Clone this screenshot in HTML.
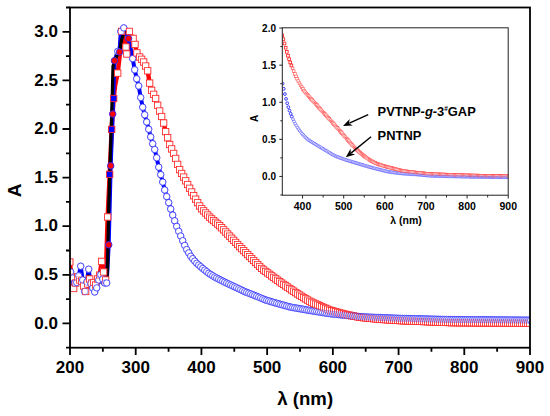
<!DOCTYPE html>
<html><head><meta charset="utf-8"><style>
html,body{margin:0;padding:0;background:#fff;}
body{width:550px;height:416px;overflow:hidden;font-family:"Liberation Sans",sans-serif;}
svg{display:block;}
</style></head><body>
<svg width="550" height="416" viewBox="0 0 550 416"><defs><clipPath id="cm"><rect x="70" y="7.5" width="460" height="340.2"/></clipPath><clipPath id="ci"><rect x="282.3" y="27.8" width="225.9" height="167.4"/></clipPath></defs>
<g clip-path="url(#cm)">
<path d="M69.80 262.00L71.65 277.00L73.65 288.50L75.65 283.00L77.65 277.00L79.65 280.00L81.65 281.00L83.65 286.00L85.65 291.50L87.65 284.00L89.65 279.00L91.65 283.00L93.65 282.50L95.65 285.00L97.65 279.00L99.65 275.20L101.65 261.40L103.65 272.00L105.65 280.00L107.65 217.00L109.65 174.40L111.65 129.40L113.65 98.50L115.20 85.00L117.70 73.10L120.00 53.00L121.60 31.40L123.50 40.00L126.00 47.00L126.80 54.00L129.40 31.40L131.20 35.00L133.10 38.40L135.00 44.40L136.90 52.90L139.65 57.00L141.65 59.30L143.65 62.00L145.65 66.00L147.65 70.80L149.65 83.10L151.65 90.30L153.65 94.30L155.65 98.50L157.65 105.30L159.65 111.00L161.65 116.50L163.65 123.00L165.65 131.64L167.65 137.72L169.65 144.49L171.65 148.87L173.65 153.43L175.65 158.45L177.65 164.37L179.65 169.63L181.65 173.46L183.65 177.05L185.65 180.78L187.65 184.52L189.65 188.25L191.65 191.97L193.65 195.69L195.65 199.18L197.65 202.67L199.65 205.94L201.65 208.77L203.65 210.86L205.65 212.95L207.65 215.04L209.65 217.13L211.65 218.90L213.65 220.60L215.65 222.30L217.65 224.00L219.65 225.70L221.65 227.73L223.65 229.83L225.65 231.93L227.65 234.03L229.65 236.13L231.65 238.23L233.65 240.33L235.65 242.43L237.65 244.53L239.65 246.63L241.65 248.64L243.65 250.62L245.65 252.60L247.65 254.58L249.65 256.56L251.65 258.54L253.65 260.53L255.65 262.51L257.65 264.49L259.65 266.47L261.65 268.45L263.65 270.01L265.65 271.48L267.65 272.94L269.65 274.41L271.65 275.88L273.65 277.34L275.65 278.81L277.65 280.28L279.65 281.74L281.65 283.12L283.65 284.47L285.65 285.82L287.65 287.18L289.65 288.53L291.65 289.88L293.65 291.23L295.65 292.59L297.65 293.90L299.65 295.13L301.65 296.36L303.65 297.59L305.65 298.82L307.65 300.05L309.65 301.28L311.65 302.23L313.65 303.11L315.65 303.99L317.65 304.87L319.65 305.75L321.65 306.63L323.65 307.51L325.65 308.39L327.65 309.27L329.65 310.15L331.65 310.74L333.65 311.27L335.65 311.81L337.65 312.34L339.65 312.87L341.65 313.41L343.65 313.94L345.65 314.43L347.65 314.83L349.65 315.23L351.65 315.63L353.65 316.03L355.65 316.43L357.65 316.83L359.65 317.23L361.65 317.47L363.65 317.67L365.65 317.87L367.65 318.06L369.65 318.26L371.65 318.47L373.65 318.67L375.65 318.87L377.65 319.06L379.65 319.26L381.65 319.41L383.65 319.54L385.65 319.67L387.65 319.80L389.65 319.93L391.65 320.06L393.65 320.19L395.65 320.32L397.65 320.45L399.65 320.58L401.65 320.67L403.65 320.75L405.65 320.83L407.65 320.91L409.65 320.99L411.65 321.07L413.65 321.15L415.65 321.23L417.65 321.31L419.65 321.39L421.65 321.47L423.65 321.55L425.65 321.63L427.65 321.71L429.65 321.79L431.65 321.87L433.65 321.95L435.65 322.03L437.65 322.11L439.65 322.19L441.65 322.27L443.65 322.35L445.65 322.43L447.65 322.51L449.65 322.59L451.65 322.61L453.65 322.63L455.65 322.64L457.65 322.66L459.65 322.67L461.65 322.69L463.65 322.70L465.65 322.72L467.65 322.73L469.65 322.75L471.65 322.76L473.65 322.78L475.65 322.79L477.65 322.80L479.65 322.82L481.65 322.83L483.65 322.85L485.65 322.86L487.65 322.88L489.65 322.89L491.65 322.91L493.65 322.92L495.65 322.94L497.65 322.95L499.65 322.97L501.65 322.98L503.65 323.00L505.65 323.01L507.65 323.03L509.65 323.04L511.65 323.06L513.65 323.07L515.65 323.09L517.65 323.10L519.65 323.12L521.65 323.13L523.65 323.15L525.65 323.16L527.65 323.18L529.65 323.19" stroke="#ff0000" stroke-width="4.4" fill="none" stroke-linejoin="round" />
<path d="M70.70 272.00L72.70 278.00L74.70 283.00L76.70 282.50L78.70 275.80L80.70 266.20L82.70 280.00L84.70 291.50L86.70 282.00L88.70 269.20L90.70 283.70L92.70 288.00L94.70 292.00L96.70 287.90L98.70 280.00L100.70 274.60L102.70 279.00L104.70 283.00L106.70 283.00L108.70 244.80L110.70 165.80L112.70 114.00L114.50 60.70L117.80 51.40L119.50 52.00L120.80 31.40L123.80 27.90L128.60 38.50L132.70 58.60L134.70 69.80L136.70 78.80L138.70 86.00L140.70 97.50L142.70 107.20L144.70 114.80L146.70 122.00L148.70 129.20L150.70 136.90L152.70 143.70L154.70 149.50L156.70 157.75L158.70 167.14L160.70 174.63L162.70 182.08L164.70 189.97L166.70 196.53L168.70 202.63L170.70 208.96L172.70 215.10L174.70 220.80L176.70 226.34L178.70 231.29L180.70 235.99L182.70 240.68L184.70 245.38L186.70 249.53L188.70 252.87L190.70 256.20L192.70 258.65L194.70 261.11L196.70 263.30L198.70 265.03L200.70 266.75L202.70 268.46L204.70 270.07L206.70 271.67L208.70 273.26L210.70 274.51L212.70 275.76L214.70 277.01L216.70 278.07L218.70 279.09L220.70 280.11L222.70 281.13L224.70 282.15L226.70 283.10L228.70 284.04L230.70 284.98L232.70 285.92L234.70 286.86L236.70 287.80L238.70 288.74L240.70 289.68L242.70 290.62L244.70 291.56L246.70 292.36L248.70 293.15L250.70 293.93L252.70 294.71L254.70 295.49L256.70 296.30L258.70 297.14L260.70 297.98L262.70 298.83L264.70 299.67L266.70 300.31L268.70 300.91L270.70 301.51L272.70 302.11L274.70 302.71L276.70 303.28L278.70 303.84L280.70 304.40L282.70 304.96L284.70 305.52L286.70 306.08L288.70 306.64L290.70 307.12L292.70 307.47L294.70 307.82L296.70 308.17L298.70 308.52L300.70 308.87L302.70 309.22L304.70 309.57L306.70 309.92L308.70 310.27L310.70 310.61L312.70 310.93L314.70 311.25L316.70 311.57L318.70 311.89L320.70 312.21L322.70 312.53L324.70 312.85L326.70 313.17L328.70 313.49L330.70 313.77L332.70 313.98L334.70 314.19L336.70 314.39L338.70 314.60L340.70 314.81L342.70 315.01L344.70 315.22L346.70 315.43L348.70 315.63L350.70 315.84L352.70 316.05L354.70 316.25L356.70 316.46L358.70 316.67L360.70 316.83L362.70 316.91L364.70 316.99L366.70 317.07L368.70 317.15L370.70 317.23L372.70 317.31L374.70 317.39L376.70 317.47L378.70 317.55L380.70 317.63L382.70 317.71L384.70 317.79L386.70 317.87L388.70 317.95L390.70 318.03L392.70 318.11L394.70 318.19L396.70 318.27L398.70 318.35L400.70 318.42L402.70 318.46L404.70 318.51L406.70 318.56L408.70 318.61L410.70 318.66L412.70 318.70L414.70 318.75L416.70 318.80L418.70 318.85L420.70 318.90L422.70 318.94L424.70 318.99L426.70 319.04L428.70 319.09L430.70 319.14L432.70 319.18L434.70 319.23L436.70 319.28L438.70 319.33L440.70 319.38L442.70 319.42L444.70 319.47L446.70 319.52L448.70 319.57L450.70 319.61L452.70 319.62L454.70 319.63L456.70 319.65L458.70 319.66L460.70 319.68L462.70 319.69L464.70 319.71L466.70 319.72L468.70 319.74L470.70 319.75L472.70 319.77L474.70 319.78L476.70 319.80L478.70 319.81L480.70 319.83L482.70 319.84L484.70 319.86L486.70 319.87L488.70 319.89L490.70 319.90L492.70 319.92L494.70 319.93L496.70 319.95L498.70 319.96L500.70 319.98L502.70 319.99L504.70 320.01L506.70 320.02L508.70 320.03L510.70 320.05L512.70 320.06L514.70 320.08L516.70 320.09L518.70 320.11L520.70 320.12L522.70 320.14L524.70 320.15L526.70 320.17L528.70 320.18L530.70 320.20" stroke="#0000ff" stroke-width="4" fill="none" stroke-linejoin="round" />
<path d="M70.60 275.00L74.00 284.00L78.00 279.00L82.00 279.00L85.50 289.00L88.50 276.00L92.00 281.00L95.00 289.00L99.00 279.00L103.00 284.00L106.50 284.00L107.60 268.00L108.50 215.00L110.20 160.00L111.80 110.00L112.40 90.00L113.00 66.00L116.00 58.00L118.00 53.00L119.90 49.90L121.50 40.00L123.30 34.50L124.50 31.00" stroke="#000" stroke-width="3.2" fill="none" stroke-linejoin="round" />
<rect x="66.65" y="258.85" width="6.3" height="6.3" fill="#fff" stroke="#ff2a2a" stroke-width="0.82"/><rect x="68.50" y="273.85" width="6.3" height="6.3" fill="#fff" stroke="#ff2a2a" stroke-width="0.82"/><circle cx="70.70" cy="272.00" r="3.2" fill="#fff" stroke="#2a2aff" stroke-width="0.82"/><rect x="70.50" y="285.35" width="6.3" height="6.3" fill="#fff" stroke="#ff2a2a" stroke-width="0.82"/><circle cx="72.70" cy="278.00" r="3.2" fill="#fff" stroke="#2a2aff" stroke-width="0.82"/><rect x="72.50" y="279.85" width="6.3" height="6.3" fill="#fff" stroke="#ff2a2a" stroke-width="0.82"/><circle cx="74.70" cy="283.00" r="3.2" fill="#fff" stroke="#2a2aff" stroke-width="0.82"/><rect x="74.50" y="273.85" width="6.3" height="6.3" fill="#fff" stroke="#ff2a2a" stroke-width="0.82"/><circle cx="76.70" cy="282.50" r="3.2" fill="#fff" stroke="#2a2aff" stroke-width="0.82"/><rect x="76.50" y="276.85" width="6.3" height="6.3" fill="#fff" stroke="#ff2a2a" stroke-width="0.82"/><circle cx="78.70" cy="275.80" r="3.2" fill="#fff" stroke="#2a2aff" stroke-width="0.82"/><rect x="78.50" y="277.85" width="6.3" height="6.3" fill="#fff" stroke="#ff2a2a" stroke-width="0.82"/><circle cx="80.70" cy="266.20" r="3.2" fill="#fff" stroke="#2a2aff" stroke-width="0.82"/><rect x="80.50" y="282.85" width="6.3" height="6.3" fill="#fff" stroke="#ff2a2a" stroke-width="0.82"/><circle cx="82.70" cy="280.00" r="3.2" fill="#fff" stroke="#2a2aff" stroke-width="0.82"/><rect x="82.50" y="288.35" width="6.3" height="6.3" fill="#fff" stroke="#ff2a2a" stroke-width="0.82"/><circle cx="84.70" cy="291.50" r="3.2" fill="#fff" stroke="#2a2aff" stroke-width="0.82"/><rect x="84.50" y="280.85" width="6.3" height="6.3" fill="#fff" stroke="#ff2a2a" stroke-width="0.82"/><circle cx="86.70" cy="282.00" r="3.2" fill="#fff" stroke="#2a2aff" stroke-width="0.82"/><rect x="86.50" y="275.85" width="6.3" height="6.3" fill="#fff" stroke="#ff2a2a" stroke-width="0.82"/><circle cx="88.70" cy="269.20" r="3.2" fill="#fff" stroke="#2a2aff" stroke-width="0.82"/><rect x="88.50" y="279.85" width="6.3" height="6.3" fill="#fff" stroke="#ff2a2a" stroke-width="0.82"/><circle cx="90.70" cy="283.70" r="3.2" fill="#fff" stroke="#2a2aff" stroke-width="0.82"/><rect x="90.50" y="279.35" width="6.3" height="6.3" fill="#fff" stroke="#ff2a2a" stroke-width="0.82"/><circle cx="92.70" cy="288.00" r="3.2" fill="#fff" stroke="#2a2aff" stroke-width="0.82"/><rect x="92.50" y="281.85" width="6.3" height="6.3" fill="#fff" stroke="#ff2a2a" stroke-width="0.82"/><circle cx="94.70" cy="292.00" r="3.2" fill="#fff" stroke="#2a2aff" stroke-width="0.82"/><rect x="94.50" y="275.85" width="6.3" height="6.3" fill="#fff" stroke="#ff2a2a" stroke-width="0.82"/><circle cx="96.70" cy="287.90" r="3.2" fill="#fff" stroke="#2a2aff" stroke-width="0.82"/><rect x="96.50" y="272.05" width="6.3" height="6.3" fill="#fff" stroke="#ff2a2a" stroke-width="0.82"/><circle cx="98.70" cy="280.00" r="3.2" fill="#fff" stroke="#2a2aff" stroke-width="0.82"/><rect x="98.50" y="258.25" width="6.3" height="6.3" fill="#fff" stroke="#ff2a2a" stroke-width="0.82"/><circle cx="100.70" cy="274.60" r="3.2" fill="#fff" stroke="#2a2aff" stroke-width="0.82"/><rect x="100.50" y="268.85" width="6.3" height="6.3" fill="#fff" stroke="#ff2a2a" stroke-width="0.82"/><circle cx="102.70" cy="279.00" r="3.2" fill="#fff" stroke="#2a2aff" stroke-width="0.82"/><rect x="102.50" y="276.85" width="6.3" height="6.3" fill="#fff" stroke="#ff2a2a" stroke-width="0.82"/><circle cx="104.70" cy="283.00" r="3.2" fill="#fff" stroke="#2a2aff" stroke-width="0.82"/><rect x="104.50" y="213.85" width="6.3" height="6.3" fill="#fff" stroke="#ff2a2a" stroke-width="0.82"/><circle cx="106.70" cy="283.00" r="3.2" fill="#fff" stroke="#2a2aff" stroke-width="0.82"/><rect x="114.55" y="69.95" width="6.3" height="6.3" fill="#fff" stroke="#ff2a2a" stroke-width="0.82"/><circle cx="117.80" cy="51.40" r="3.2" fill="#fff" stroke="#2a2aff" stroke-width="0.82"/><rect x="118.45" y="28.25" width="6.3" height="6.3" fill="#fff" stroke="#ff2a2a" stroke-width="0.82"/><circle cx="120.80" cy="31.40" r="3.2" fill="#fff" stroke="#2a2aff" stroke-width="0.82"/><circle cx="123.80" cy="27.90" r="3.2" fill="#fff" stroke="#2a2aff" stroke-width="0.82"/><rect x="122.85" y="43.85" width="6.3" height="6.3" fill="#fff" stroke="#ff2a2a" stroke-width="0.82"/><rect x="123.65" y="50.85" width="6.3" height="6.3" fill="#fff" stroke="#ff2a2a" stroke-width="0.82"/><rect x="126.25" y="28.25" width="6.3" height="6.3" fill="#fff" stroke="#ff2a2a" stroke-width="0.82"/><rect x="129.95" y="35.25" width="6.3" height="6.3" fill="#fff" stroke="#ff2a2a" stroke-width="0.82"/><circle cx="132.70" cy="58.60" r="3.2" fill="#fff" stroke="#2a2aff" stroke-width="0.82"/><rect x="131.85" y="41.25" width="6.3" height="6.3" fill="#fff" stroke="#ff2a2a" stroke-width="0.82"/><circle cx="134.70" cy="69.80" r="3.2" fill="#fff" stroke="#2a2aff" stroke-width="0.82"/><rect x="133.75" y="49.75" width="6.3" height="6.3" fill="#fff" stroke="#ff2a2a" stroke-width="0.82"/><circle cx="136.70" cy="78.80" r="3.2" fill="#fff" stroke="#2a2aff" stroke-width="0.82"/><rect x="136.50" y="53.85" width="6.3" height="6.3" fill="#fff" stroke="#ff2a2a" stroke-width="0.82"/><circle cx="138.70" cy="86.00" r="3.2" fill="#fff" stroke="#2a2aff" stroke-width="0.82"/><rect x="138.50" y="56.15" width="6.3" height="6.3" fill="#fff" stroke="#ff2a2a" stroke-width="0.82"/><circle cx="140.70" cy="97.50" r="3.2" fill="#fff" stroke="#2a2aff" stroke-width="0.82"/><rect x="140.50" y="58.85" width="6.3" height="6.3" fill="#fff" stroke="#ff2a2a" stroke-width="0.82"/><circle cx="142.70" cy="107.20" r="3.2" fill="#fff" stroke="#2a2aff" stroke-width="0.82"/><rect x="142.50" y="62.85" width="6.3" height="6.3" fill="#fff" stroke="#ff2a2a" stroke-width="0.82"/><circle cx="144.70" cy="114.80" r="3.2" fill="#fff" stroke="#2a2aff" stroke-width="0.82"/><rect x="144.50" y="67.65" width="6.3" height="6.3" fill="#fff" stroke="#ff2a2a" stroke-width="0.82"/><circle cx="146.70" cy="122.00" r="3.2" fill="#fff" stroke="#2a2aff" stroke-width="0.82"/><rect x="146.50" y="79.95" width="6.3" height="6.3" fill="#fff" stroke="#ff2a2a" stroke-width="0.82"/><circle cx="148.70" cy="129.20" r="3.2" fill="#fff" stroke="#2a2aff" stroke-width="0.82"/><rect x="148.50" y="87.15" width="6.3" height="6.3" fill="#fff" stroke="#ff2a2a" stroke-width="0.82"/><circle cx="150.70" cy="136.90" r="3.2" fill="#fff" stroke="#2a2aff" stroke-width="0.82"/><rect x="150.50" y="91.15" width="6.3" height="6.3" fill="#fff" stroke="#ff2a2a" stroke-width="0.82"/><circle cx="152.70" cy="143.70" r="3.2" fill="#fff" stroke="#2a2aff" stroke-width="0.82"/><rect x="152.50" y="95.35" width="6.3" height="6.3" fill="#fff" stroke="#ff2a2a" stroke-width="0.82"/><circle cx="154.70" cy="149.50" r="3.2" fill="#fff" stroke="#2a2aff" stroke-width="0.82"/><rect x="154.50" y="102.15" width="6.3" height="6.3" fill="#fff" stroke="#ff2a2a" stroke-width="0.82"/><circle cx="156.70" cy="157.75" r="3.2" fill="#fff" stroke="#2a2aff" stroke-width="0.82"/><rect x="156.50" y="107.85" width="6.3" height="6.3" fill="#fff" stroke="#ff2a2a" stroke-width="0.82"/><circle cx="158.70" cy="167.14" r="3.2" fill="#fff" stroke="#2a2aff" stroke-width="0.82"/><rect x="158.50" y="113.35" width="6.3" height="6.3" fill="#fff" stroke="#ff2a2a" stroke-width="0.82"/><circle cx="160.70" cy="174.63" r="3.2" fill="#fff" stroke="#2a2aff" stroke-width="0.82"/><rect x="160.50" y="119.85" width="6.3" height="6.3" fill="#fff" stroke="#ff2a2a" stroke-width="0.82"/><circle cx="162.70" cy="182.08" r="3.2" fill="#fff" stroke="#2a2aff" stroke-width="0.82"/><rect x="162.50" y="128.49" width="6.3" height="6.3" fill="#fff" stroke="#ff2a2a" stroke-width="0.82"/><circle cx="164.70" cy="189.97" r="3.2" fill="#fff" stroke="#2a2aff" stroke-width="0.82"/><rect x="164.50" y="134.57" width="6.3" height="6.3" fill="#fff" stroke="#ff2a2a" stroke-width="0.82"/><circle cx="166.70" cy="196.53" r="3.2" fill="#fff" stroke="#2a2aff" stroke-width="0.82"/><rect x="166.50" y="141.34" width="6.3" height="6.3" fill="#fff" stroke="#ff2a2a" stroke-width="0.82"/><circle cx="168.70" cy="202.63" r="3.2" fill="#fff" stroke="#2a2aff" stroke-width="0.82"/><rect x="168.50" y="145.72" width="6.3" height="6.3" fill="#fff" stroke="#ff2a2a" stroke-width="0.82"/><circle cx="170.70" cy="208.96" r="3.2" fill="#fff" stroke="#2a2aff" stroke-width="0.82"/><rect x="170.50" y="150.28" width="6.3" height="6.3" fill="#fff" stroke="#ff2a2a" stroke-width="0.82"/><circle cx="172.70" cy="215.10" r="3.2" fill="#fff" stroke="#2a2aff" stroke-width="0.82"/><rect x="172.50" y="155.30" width="6.3" height="6.3" fill="#fff" stroke="#ff2a2a" stroke-width="0.82"/><circle cx="174.70" cy="220.80" r="3.2" fill="#fff" stroke="#2a2aff" stroke-width="0.82"/><rect x="174.50" y="161.22" width="6.3" height="6.3" fill="#fff" stroke="#ff2a2a" stroke-width="0.82"/><circle cx="176.70" cy="226.34" r="3.2" fill="#fff" stroke="#2a2aff" stroke-width="0.82"/><rect x="176.50" y="166.48" width="6.3" height="6.3" fill="#fff" stroke="#ff2a2a" stroke-width="0.82"/><circle cx="178.70" cy="231.29" r="3.2" fill="#fff" stroke="#2a2aff" stroke-width="0.82"/><rect x="178.50" y="170.31" width="6.3" height="6.3" fill="#fff" stroke="#ff2a2a" stroke-width="0.82"/><circle cx="180.70" cy="235.99" r="3.2" fill="#fff" stroke="#2a2aff" stroke-width="0.82"/><rect x="180.50" y="173.90" width="6.3" height="6.3" fill="#fff" stroke="#ff2a2a" stroke-width="0.82"/><circle cx="182.70" cy="240.68" r="3.2" fill="#fff" stroke="#2a2aff" stroke-width="0.82"/><rect x="182.50" y="177.63" width="6.3" height="6.3" fill="#fff" stroke="#ff2a2a" stroke-width="0.82"/><circle cx="184.70" cy="245.38" r="3.2" fill="#fff" stroke="#2a2aff" stroke-width="0.82"/><rect x="184.50" y="181.37" width="6.3" height="6.3" fill="#fff" stroke="#ff2a2a" stroke-width="0.82"/><circle cx="186.70" cy="249.53" r="3.2" fill="#fff" stroke="#2a2aff" stroke-width="0.82"/><rect x="186.50" y="185.10" width="6.3" height="6.3" fill="#fff" stroke="#ff2a2a" stroke-width="0.82"/><circle cx="188.70" cy="252.87" r="3.2" fill="#fff" stroke="#2a2aff" stroke-width="0.82"/><rect x="188.50" y="188.82" width="6.3" height="6.3" fill="#fff" stroke="#ff2a2a" stroke-width="0.82"/><circle cx="190.70" cy="256.20" r="3.2" fill="#fff" stroke="#2a2aff" stroke-width="0.82"/><rect x="190.50" y="192.54" width="6.3" height="6.3" fill="#fff" stroke="#ff2a2a" stroke-width="0.82"/><circle cx="192.70" cy="258.65" r="3.2" fill="#fff" stroke="#2a2aff" stroke-width="0.82"/><rect x="192.50" y="196.03" width="6.3" height="6.3" fill="#fff" stroke="#ff2a2a" stroke-width="0.82"/><circle cx="194.70" cy="261.11" r="3.2" fill="#fff" stroke="#2a2aff" stroke-width="0.82"/><rect x="194.50" y="199.52" width="6.3" height="6.3" fill="#fff" stroke="#ff2a2a" stroke-width="0.82"/><circle cx="196.70" cy="263.30" r="3.2" fill="#fff" stroke="#2a2aff" stroke-width="0.82"/><rect x="196.50" y="202.79" width="6.3" height="6.3" fill="#fff" stroke="#ff2a2a" stroke-width="0.82"/><circle cx="198.70" cy="265.03" r="3.2" fill="#fff" stroke="#2a2aff" stroke-width="0.82"/><rect x="198.50" y="205.62" width="6.3" height="6.3" fill="#fff" stroke="#ff2a2a" stroke-width="0.82"/><circle cx="200.70" cy="266.75" r="3.2" fill="#fff" stroke="#2a2aff" stroke-width="0.82"/><rect x="200.50" y="207.71" width="6.3" height="6.3" fill="#fff" stroke="#ff2a2a" stroke-width="0.82"/><circle cx="202.70" cy="268.46" r="3.2" fill="#fff" stroke="#2a2aff" stroke-width="0.82"/><rect x="202.50" y="209.80" width="6.3" height="6.3" fill="#fff" stroke="#ff2a2a" stroke-width="0.82"/><circle cx="204.70" cy="270.07" r="3.2" fill="#fff" stroke="#2a2aff" stroke-width="0.82"/><rect x="204.50" y="211.89" width="6.3" height="6.3" fill="#fff" stroke="#ff2a2a" stroke-width="0.82"/><circle cx="206.70" cy="271.67" r="3.2" fill="#fff" stroke="#2a2aff" stroke-width="0.82"/><rect x="206.50" y="213.98" width="6.3" height="6.3" fill="#fff" stroke="#ff2a2a" stroke-width="0.82"/><circle cx="208.70" cy="273.26" r="3.2" fill="#fff" stroke="#2a2aff" stroke-width="0.82"/><rect x="208.50" y="215.75" width="6.3" height="6.3" fill="#fff" stroke="#ff2a2a" stroke-width="0.82"/><circle cx="210.70" cy="274.51" r="3.2" fill="#fff" stroke="#2a2aff" stroke-width="0.82"/><rect x="210.50" y="217.45" width="6.3" height="6.3" fill="#fff" stroke="#ff2a2a" stroke-width="0.82"/><circle cx="212.70" cy="275.76" r="3.2" fill="#fff" stroke="#2a2aff" stroke-width="0.82"/><rect x="212.50" y="219.15" width="6.3" height="6.3" fill="#fff" stroke="#ff2a2a" stroke-width="0.82"/><circle cx="214.70" cy="277.01" r="3.2" fill="#fff" stroke="#2a2aff" stroke-width="0.82"/><rect x="214.50" y="220.85" width="6.3" height="6.3" fill="#fff" stroke="#ff2a2a" stroke-width="0.82"/><circle cx="216.70" cy="278.07" r="3.2" fill="#fff" stroke="#2a2aff" stroke-width="0.82"/><rect x="216.50" y="222.55" width="6.3" height="6.3" fill="#fff" stroke="#ff2a2a" stroke-width="0.82"/><circle cx="218.70" cy="279.09" r="3.2" fill="#fff" stroke="#2a2aff" stroke-width="0.82"/><rect x="218.50" y="224.58" width="6.3" height="6.3" fill="#fff" stroke="#ff2a2a" stroke-width="0.82"/><circle cx="220.70" cy="280.11" r="3.2" fill="#fff" stroke="#2a2aff" stroke-width="0.82"/><rect x="220.50" y="226.68" width="6.3" height="6.3" fill="#fff" stroke="#ff2a2a" stroke-width="0.82"/><circle cx="222.70" cy="281.13" r="3.2" fill="#fff" stroke="#2a2aff" stroke-width="0.82"/><rect x="222.50" y="228.78" width="6.3" height="6.3" fill="#fff" stroke="#ff2a2a" stroke-width="0.82"/><circle cx="224.70" cy="282.15" r="3.2" fill="#fff" stroke="#2a2aff" stroke-width="0.82"/><rect x="224.50" y="230.88" width="6.3" height="6.3" fill="#fff" stroke="#ff2a2a" stroke-width="0.82"/><circle cx="226.70" cy="283.10" r="3.2" fill="#fff" stroke="#2a2aff" stroke-width="0.82"/><rect x="226.50" y="232.98" width="6.3" height="6.3" fill="#fff" stroke="#ff2a2a" stroke-width="0.82"/><circle cx="228.70" cy="284.04" r="3.2" fill="#fff" stroke="#2a2aff" stroke-width="0.82"/><rect x="228.50" y="235.08" width="6.3" height="6.3" fill="#fff" stroke="#ff2a2a" stroke-width="0.82"/><circle cx="230.70" cy="284.98" r="3.2" fill="#fff" stroke="#2a2aff" stroke-width="0.82"/><rect x="230.50" y="237.18" width="6.3" height="6.3" fill="#fff" stroke="#ff2a2a" stroke-width="0.82"/><circle cx="232.70" cy="285.92" r="3.2" fill="#fff" stroke="#2a2aff" stroke-width="0.82"/><rect x="232.50" y="239.28" width="6.3" height="6.3" fill="#fff" stroke="#ff2a2a" stroke-width="0.82"/><circle cx="234.70" cy="286.86" r="3.2" fill="#fff" stroke="#2a2aff" stroke-width="0.82"/><rect x="234.50" y="241.38" width="6.3" height="6.3" fill="#fff" stroke="#ff2a2a" stroke-width="0.82"/><circle cx="236.70" cy="287.80" r="3.2" fill="#fff" stroke="#2a2aff" stroke-width="0.82"/><rect x="236.50" y="243.48" width="6.3" height="6.3" fill="#fff" stroke="#ff2a2a" stroke-width="0.82"/><circle cx="238.70" cy="288.74" r="3.2" fill="#fff" stroke="#2a2aff" stroke-width="0.82"/><rect x="238.50" y="245.49" width="6.3" height="6.3" fill="#fff" stroke="#ff2a2a" stroke-width="0.82"/><circle cx="240.70" cy="289.68" r="3.2" fill="#fff" stroke="#2a2aff" stroke-width="0.82"/><rect x="240.50" y="247.47" width="6.3" height="6.3" fill="#fff" stroke="#ff2a2a" stroke-width="0.82"/><circle cx="242.70" cy="290.62" r="3.2" fill="#fff" stroke="#2a2aff" stroke-width="0.82"/><rect x="242.50" y="249.45" width="6.3" height="6.3" fill="#fff" stroke="#ff2a2a" stroke-width="0.82"/><circle cx="244.70" cy="291.56" r="3.2" fill="#fff" stroke="#2a2aff" stroke-width="0.82"/><rect x="244.50" y="251.43" width="6.3" height="6.3" fill="#fff" stroke="#ff2a2a" stroke-width="0.82"/><circle cx="246.70" cy="292.36" r="3.2" fill="#fff" stroke="#2a2aff" stroke-width="0.82"/><rect x="246.50" y="253.41" width="6.3" height="6.3" fill="#fff" stroke="#ff2a2a" stroke-width="0.82"/><circle cx="248.70" cy="293.15" r="3.2" fill="#fff" stroke="#2a2aff" stroke-width="0.82"/><rect x="248.50" y="255.39" width="6.3" height="6.3" fill="#fff" stroke="#ff2a2a" stroke-width="0.82"/><circle cx="250.70" cy="293.93" r="3.2" fill="#fff" stroke="#2a2aff" stroke-width="0.82"/><rect x="250.50" y="257.38" width="6.3" height="6.3" fill="#fff" stroke="#ff2a2a" stroke-width="0.82"/><circle cx="252.70" cy="294.71" r="3.2" fill="#fff" stroke="#2a2aff" stroke-width="0.82"/><rect x="252.50" y="259.36" width="6.3" height="6.3" fill="#fff" stroke="#ff2a2a" stroke-width="0.82"/><circle cx="254.70" cy="295.49" r="3.2" fill="#fff" stroke="#2a2aff" stroke-width="0.82"/><rect x="254.50" y="261.34" width="6.3" height="6.3" fill="#fff" stroke="#ff2a2a" stroke-width="0.82"/><circle cx="256.70" cy="296.30" r="3.2" fill="#fff" stroke="#2a2aff" stroke-width="0.82"/><rect x="256.50" y="263.32" width="6.3" height="6.3" fill="#fff" stroke="#ff2a2a" stroke-width="0.82"/><circle cx="258.70" cy="297.14" r="3.2" fill="#fff" stroke="#2a2aff" stroke-width="0.82"/><rect x="258.50" y="265.30" width="6.3" height="6.3" fill="#fff" stroke="#ff2a2a" stroke-width="0.82"/><circle cx="260.70" cy="297.98" r="3.2" fill="#fff" stroke="#2a2aff" stroke-width="0.82"/><rect x="260.50" y="266.86" width="6.3" height="6.3" fill="#fff" stroke="#ff2a2a" stroke-width="0.82"/><circle cx="262.70" cy="298.83" r="3.2" fill="#fff" stroke="#2a2aff" stroke-width="0.82"/><rect x="262.50" y="268.33" width="6.3" height="6.3" fill="#fff" stroke="#ff2a2a" stroke-width="0.82"/><circle cx="264.70" cy="299.67" r="3.2" fill="#fff" stroke="#2a2aff" stroke-width="0.82"/><rect x="264.50" y="269.79" width="6.3" height="6.3" fill="#fff" stroke="#ff2a2a" stroke-width="0.82"/><circle cx="266.70" cy="300.31" r="3.2" fill="#fff" stroke="#2a2aff" stroke-width="0.82"/><rect x="266.50" y="271.26" width="6.3" height="6.3" fill="#fff" stroke="#ff2a2a" stroke-width="0.82"/><circle cx="268.70" cy="300.91" r="3.2" fill="#fff" stroke="#2a2aff" stroke-width="0.82"/><rect x="268.50" y="272.73" width="6.3" height="6.3" fill="#fff" stroke="#ff2a2a" stroke-width="0.82"/><circle cx="270.70" cy="301.51" r="3.2" fill="#fff" stroke="#2a2aff" stroke-width="0.82"/><rect x="270.50" y="274.19" width="6.3" height="6.3" fill="#fff" stroke="#ff2a2a" stroke-width="0.82"/><circle cx="272.70" cy="302.11" r="3.2" fill="#fff" stroke="#2a2aff" stroke-width="0.82"/><rect x="272.50" y="275.66" width="6.3" height="6.3" fill="#fff" stroke="#ff2a2a" stroke-width="0.82"/><circle cx="274.70" cy="302.71" r="3.2" fill="#fff" stroke="#2a2aff" stroke-width="0.82"/><rect x="274.50" y="277.13" width="6.3" height="6.3" fill="#fff" stroke="#ff2a2a" stroke-width="0.82"/><circle cx="276.70" cy="303.28" r="3.2" fill="#fff" stroke="#2a2aff" stroke-width="0.82"/><rect x="276.50" y="278.59" width="6.3" height="6.3" fill="#fff" stroke="#ff2a2a" stroke-width="0.82"/><circle cx="278.70" cy="303.84" r="3.2" fill="#fff" stroke="#2a2aff" stroke-width="0.82"/><rect x="278.50" y="279.97" width="6.3" height="6.3" fill="#fff" stroke="#ff2a2a" stroke-width="0.82"/><circle cx="280.70" cy="304.40" r="3.2" fill="#fff" stroke="#2a2aff" stroke-width="0.82"/><rect x="280.50" y="281.32" width="6.3" height="6.3" fill="#fff" stroke="#ff2a2a" stroke-width="0.82"/><circle cx="282.70" cy="304.96" r="3.2" fill="#fff" stroke="#2a2aff" stroke-width="0.82"/><rect x="282.50" y="282.67" width="6.3" height="6.3" fill="#fff" stroke="#ff2a2a" stroke-width="0.82"/><circle cx="284.70" cy="305.52" r="3.2" fill="#fff" stroke="#2a2aff" stroke-width="0.82"/><rect x="284.50" y="284.03" width="6.3" height="6.3" fill="#fff" stroke="#ff2a2a" stroke-width="0.82"/><circle cx="286.70" cy="306.08" r="3.2" fill="#fff" stroke="#2a2aff" stroke-width="0.82"/><rect x="286.50" y="285.38" width="6.3" height="6.3" fill="#fff" stroke="#ff2a2a" stroke-width="0.82"/><circle cx="288.70" cy="306.64" r="3.2" fill="#fff" stroke="#2a2aff" stroke-width="0.82"/><rect x="288.50" y="286.73" width="6.3" height="6.3" fill="#fff" stroke="#ff2a2a" stroke-width="0.82"/><circle cx="290.70" cy="307.12" r="3.2" fill="#fff" stroke="#2a2aff" stroke-width="0.82"/><rect x="290.50" y="288.08" width="6.3" height="6.3" fill="#fff" stroke="#ff2a2a" stroke-width="0.82"/><circle cx="292.70" cy="307.47" r="3.2" fill="#fff" stroke="#2a2aff" stroke-width="0.82"/><rect x="292.50" y="289.44" width="6.3" height="6.3" fill="#fff" stroke="#ff2a2a" stroke-width="0.82"/><circle cx="294.70" cy="307.82" r="3.2" fill="#fff" stroke="#2a2aff" stroke-width="0.82"/><rect x="294.50" y="290.75" width="6.3" height="6.3" fill="#fff" stroke="#ff2a2a" stroke-width="0.82"/><circle cx="296.70" cy="308.17" r="3.2" fill="#fff" stroke="#2a2aff" stroke-width="0.82"/><rect x="296.50" y="291.98" width="6.3" height="6.3" fill="#fff" stroke="#ff2a2a" stroke-width="0.82"/><circle cx="298.70" cy="308.52" r="3.2" fill="#fff" stroke="#2a2aff" stroke-width="0.82"/><rect x="298.50" y="293.21" width="6.3" height="6.3" fill="#fff" stroke="#ff2a2a" stroke-width="0.82"/><circle cx="300.70" cy="308.87" r="3.2" fill="#fff" stroke="#2a2aff" stroke-width="0.82"/><rect x="300.50" y="294.44" width="6.3" height="6.3" fill="#fff" stroke="#ff2a2a" stroke-width="0.82"/><circle cx="302.70" cy="309.22" r="3.2" fill="#fff" stroke="#2a2aff" stroke-width="0.82"/><rect x="302.50" y="295.67" width="6.3" height="6.3" fill="#fff" stroke="#ff2a2a" stroke-width="0.82"/><circle cx="304.70" cy="309.57" r="3.2" fill="#fff" stroke="#2a2aff" stroke-width="0.82"/><rect x="304.50" y="296.90" width="6.3" height="6.3" fill="#fff" stroke="#ff2a2a" stroke-width="0.82"/><circle cx="306.70" cy="309.92" r="3.2" fill="#fff" stroke="#2a2aff" stroke-width="0.82"/><rect x="306.50" y="298.13" width="6.3" height="6.3" fill="#fff" stroke="#ff2a2a" stroke-width="0.82"/><circle cx="308.70" cy="310.27" r="3.2" fill="#fff" stroke="#2a2aff" stroke-width="0.82"/><rect x="308.50" y="299.08" width="6.3" height="6.3" fill="#fff" stroke="#ff2a2a" stroke-width="0.82"/><circle cx="310.70" cy="310.61" r="3.2" fill="#fff" stroke="#2a2aff" stroke-width="0.82"/><rect x="310.50" y="299.96" width="6.3" height="6.3" fill="#fff" stroke="#ff2a2a" stroke-width="0.82"/><circle cx="312.70" cy="310.93" r="3.2" fill="#fff" stroke="#2a2aff" stroke-width="0.82"/><rect x="312.50" y="300.84" width="6.3" height="6.3" fill="#fff" stroke="#ff2a2a" stroke-width="0.82"/><circle cx="314.70" cy="311.25" r="3.2" fill="#fff" stroke="#2a2aff" stroke-width="0.82"/><rect x="314.50" y="301.72" width="6.3" height="6.3" fill="#fff" stroke="#ff2a2a" stroke-width="0.82"/><circle cx="316.70" cy="311.57" r="3.2" fill="#fff" stroke="#2a2aff" stroke-width="0.82"/><rect x="316.50" y="302.60" width="6.3" height="6.3" fill="#fff" stroke="#ff2a2a" stroke-width="0.82"/><circle cx="318.70" cy="311.89" r="3.2" fill="#fff" stroke="#2a2aff" stroke-width="0.82"/><rect x="318.50" y="303.48" width="6.3" height="6.3" fill="#fff" stroke="#ff2a2a" stroke-width="0.82"/><circle cx="320.70" cy="312.21" r="3.2" fill="#fff" stroke="#2a2aff" stroke-width="0.82"/><rect x="320.50" y="304.36" width="6.3" height="6.3" fill="#fff" stroke="#ff2a2a" stroke-width="0.82"/><circle cx="322.70" cy="312.53" r="3.2" fill="#fff" stroke="#2a2aff" stroke-width="0.82"/><rect x="322.50" y="305.24" width="6.3" height="6.3" fill="#fff" stroke="#ff2a2a" stroke-width="0.82"/><circle cx="324.70" cy="312.85" r="3.2" fill="#fff" stroke="#2a2aff" stroke-width="0.82"/><rect x="324.50" y="306.12" width="6.3" height="6.3" fill="#fff" stroke="#ff2a2a" stroke-width="0.82"/><circle cx="326.70" cy="313.17" r="3.2" fill="#fff" stroke="#2a2aff" stroke-width="0.82"/><rect x="326.50" y="307.00" width="6.3" height="6.3" fill="#fff" stroke="#ff2a2a" stroke-width="0.82"/><circle cx="328.70" cy="313.49" r="3.2" fill="#fff" stroke="#2a2aff" stroke-width="0.82"/><rect x="328.50" y="307.59" width="6.3" height="6.3" fill="#fff" stroke="#ff2a2a" stroke-width="0.82"/><circle cx="330.70" cy="313.77" r="3.2" fill="#fff" stroke="#2a2aff" stroke-width="0.82"/><rect x="330.50" y="308.12" width="6.3" height="6.3" fill="#fff" stroke="#ff2a2a" stroke-width="0.82"/><circle cx="332.70" cy="313.98" r="3.2" fill="#fff" stroke="#2a2aff" stroke-width="0.82"/><rect x="332.50" y="308.66" width="6.3" height="6.3" fill="#fff" stroke="#ff2a2a" stroke-width="0.82"/><circle cx="334.70" cy="314.19" r="3.2" fill="#fff" stroke="#2a2aff" stroke-width="0.82"/><rect x="334.50" y="309.19" width="6.3" height="6.3" fill="#fff" stroke="#ff2a2a" stroke-width="0.82"/><circle cx="336.70" cy="314.39" r="3.2" fill="#fff" stroke="#2a2aff" stroke-width="0.82"/><rect x="336.50" y="309.72" width="6.3" height="6.3" fill="#fff" stroke="#ff2a2a" stroke-width="0.82"/><circle cx="338.70" cy="314.60" r="3.2" fill="#fff" stroke="#2a2aff" stroke-width="0.82"/><rect x="338.50" y="310.26" width="6.3" height="6.3" fill="#fff" stroke="#ff2a2a" stroke-width="0.82"/><circle cx="340.70" cy="314.81" r="3.2" fill="#fff" stroke="#2a2aff" stroke-width="0.82"/><rect x="340.50" y="310.79" width="6.3" height="6.3" fill="#fff" stroke="#ff2a2a" stroke-width="0.82"/><circle cx="342.70" cy="315.01" r="3.2" fill="#fff" stroke="#2a2aff" stroke-width="0.82"/><rect x="342.50" y="311.28" width="6.3" height="6.3" fill="#fff" stroke="#ff2a2a" stroke-width="0.82"/><circle cx="344.70" cy="315.22" r="3.2" fill="#fff" stroke="#2a2aff" stroke-width="0.82"/><rect x="344.50" y="311.68" width="6.3" height="6.3" fill="#fff" stroke="#ff2a2a" stroke-width="0.82"/><circle cx="346.70" cy="315.43" r="3.2" fill="#fff" stroke="#2a2aff" stroke-width="0.82"/><rect x="346.50" y="312.08" width="6.3" height="6.3" fill="#fff" stroke="#ff2a2a" stroke-width="0.82"/><circle cx="348.70" cy="315.63" r="3.2" fill="#fff" stroke="#2a2aff" stroke-width="0.82"/><rect x="348.50" y="312.48" width="6.3" height="6.3" fill="#fff" stroke="#ff2a2a" stroke-width="0.82"/><circle cx="350.70" cy="315.84" r="3.2" fill="#fff" stroke="#2a2aff" stroke-width="0.82"/><rect x="350.50" y="312.88" width="6.3" height="6.3" fill="#fff" stroke="#ff2a2a" stroke-width="0.82"/><circle cx="352.70" cy="316.05" r="3.2" fill="#fff" stroke="#2a2aff" stroke-width="0.82"/><rect x="352.50" y="313.28" width="6.3" height="6.3" fill="#fff" stroke="#ff2a2a" stroke-width="0.82"/><circle cx="354.70" cy="316.25" r="3.2" fill="#fff" stroke="#2a2aff" stroke-width="0.82"/><rect x="354.50" y="313.68" width="6.3" height="6.3" fill="#fff" stroke="#ff2a2a" stroke-width="0.82"/><circle cx="356.70" cy="316.46" r="3.2" fill="#fff" stroke="#2a2aff" stroke-width="0.82"/><rect x="356.50" y="314.08" width="6.3" height="6.3" fill="#fff" stroke="#ff2a2a" stroke-width="0.82"/><circle cx="358.70" cy="316.67" r="3.2" fill="#fff" stroke="#2a2aff" stroke-width="0.82"/><rect x="358.50" y="314.32" width="6.3" height="6.3" fill="#fff" stroke="#ff2a2a" stroke-width="0.82"/><circle cx="360.70" cy="316.83" r="3.2" fill="#fff" stroke="#2a2aff" stroke-width="0.82"/><rect x="360.50" y="314.52" width="6.3" height="6.3" fill="#fff" stroke="#ff2a2a" stroke-width="0.82"/><circle cx="362.70" cy="316.91" r="3.2" fill="#fff" stroke="#2a2aff" stroke-width="0.82"/><rect x="362.50" y="314.72" width="6.3" height="6.3" fill="#fff" stroke="#ff2a2a" stroke-width="0.82"/><circle cx="364.70" cy="316.99" r="3.2" fill="#fff" stroke="#2a2aff" stroke-width="0.82"/><rect x="364.50" y="314.92" width="6.3" height="6.3" fill="#fff" stroke="#ff2a2a" stroke-width="0.82"/><circle cx="366.70" cy="317.07" r="3.2" fill="#fff" stroke="#2a2aff" stroke-width="0.82"/><rect x="366.50" y="315.12" width="6.3" height="6.3" fill="#fff" stroke="#ff2a2a" stroke-width="0.82"/><circle cx="368.70" cy="317.15" r="3.2" fill="#fff" stroke="#2a2aff" stroke-width="0.82"/><rect x="368.50" y="315.32" width="6.3" height="6.3" fill="#fff" stroke="#ff2a2a" stroke-width="0.82"/><circle cx="370.70" cy="317.23" r="3.2" fill="#fff" stroke="#2a2aff" stroke-width="0.82"/><rect x="370.50" y="315.52" width="6.3" height="6.3" fill="#fff" stroke="#ff2a2a" stroke-width="0.82"/><circle cx="372.70" cy="317.31" r="3.2" fill="#fff" stroke="#2a2aff" stroke-width="0.82"/><rect x="372.50" y="315.72" width="6.3" height="6.3" fill="#fff" stroke="#ff2a2a" stroke-width="0.82"/><circle cx="374.70" cy="317.39" r="3.2" fill="#fff" stroke="#2a2aff" stroke-width="0.82"/><rect x="374.50" y="315.92" width="6.3" height="6.3" fill="#fff" stroke="#ff2a2a" stroke-width="0.82"/><circle cx="376.70" cy="317.47" r="3.2" fill="#fff" stroke="#2a2aff" stroke-width="0.82"/><rect x="376.50" y="316.12" width="6.3" height="6.3" fill="#fff" stroke="#ff2a2a" stroke-width="0.82"/><circle cx="378.70" cy="317.55" r="3.2" fill="#fff" stroke="#2a2aff" stroke-width="0.82"/><rect x="378.50" y="316.26" width="6.3" height="6.3" fill="#fff" stroke="#ff2a2a" stroke-width="0.82"/><circle cx="380.70" cy="317.63" r="3.2" fill="#fff" stroke="#2a2aff" stroke-width="0.82"/><rect x="380.50" y="316.39" width="6.3" height="6.3" fill="#fff" stroke="#ff2a2a" stroke-width="0.82"/><circle cx="382.70" cy="317.71" r="3.2" fill="#fff" stroke="#2a2aff" stroke-width="0.82"/><rect x="382.50" y="316.52" width="6.3" height="6.3" fill="#fff" stroke="#ff2a2a" stroke-width="0.82"/><circle cx="384.70" cy="317.79" r="3.2" fill="#fff" stroke="#2a2aff" stroke-width="0.82"/><rect x="384.50" y="316.65" width="6.3" height="6.3" fill="#fff" stroke="#ff2a2a" stroke-width="0.82"/><circle cx="386.70" cy="317.87" r="3.2" fill="#fff" stroke="#2a2aff" stroke-width="0.82"/><rect x="386.50" y="316.78" width="6.3" height="6.3" fill="#fff" stroke="#ff2a2a" stroke-width="0.82"/><circle cx="388.70" cy="317.95" r="3.2" fill="#fff" stroke="#2a2aff" stroke-width="0.82"/><rect x="388.50" y="316.91" width="6.3" height="6.3" fill="#fff" stroke="#ff2a2a" stroke-width="0.82"/><circle cx="390.70" cy="318.03" r="3.2" fill="#fff" stroke="#2a2aff" stroke-width="0.82"/><rect x="390.50" y="317.04" width="6.3" height="6.3" fill="#fff" stroke="#ff2a2a" stroke-width="0.82"/><circle cx="392.70" cy="318.11" r="3.2" fill="#fff" stroke="#2a2aff" stroke-width="0.82"/><rect x="392.50" y="317.17" width="6.3" height="6.3" fill="#fff" stroke="#ff2a2a" stroke-width="0.82"/><circle cx="394.70" cy="318.19" r="3.2" fill="#fff" stroke="#2a2aff" stroke-width="0.82"/><rect x="394.50" y="317.30" width="6.3" height="6.3" fill="#fff" stroke="#ff2a2a" stroke-width="0.82"/><circle cx="396.70" cy="318.27" r="3.2" fill="#fff" stroke="#2a2aff" stroke-width="0.82"/><rect x="396.50" y="317.43" width="6.3" height="6.3" fill="#fff" stroke="#ff2a2a" stroke-width="0.82"/><circle cx="398.70" cy="318.35" r="3.2" fill="#fff" stroke="#2a2aff" stroke-width="0.82"/><rect x="398.50" y="317.52" width="6.3" height="6.3" fill="#fff" stroke="#ff2a2a" stroke-width="0.82"/><circle cx="400.70" cy="318.42" r="3.2" fill="#fff" stroke="#2a2aff" stroke-width="0.82"/><rect x="400.50" y="317.60" width="6.3" height="6.3" fill="#fff" stroke="#ff2a2a" stroke-width="0.82"/><circle cx="402.70" cy="318.46" r="3.2" fill="#fff" stroke="#2a2aff" stroke-width="0.82"/><rect x="402.50" y="317.68" width="6.3" height="6.3" fill="#fff" stroke="#ff2a2a" stroke-width="0.82"/><circle cx="404.70" cy="318.51" r="3.2" fill="#fff" stroke="#2a2aff" stroke-width="0.82"/><rect x="404.50" y="317.76" width="6.3" height="6.3" fill="#fff" stroke="#ff2a2a" stroke-width="0.82"/><circle cx="406.70" cy="318.56" r="3.2" fill="#fff" stroke="#2a2aff" stroke-width="0.82"/><rect x="406.50" y="317.84" width="6.3" height="6.3" fill="#fff" stroke="#ff2a2a" stroke-width="0.82"/><circle cx="408.70" cy="318.61" r="3.2" fill="#fff" stroke="#2a2aff" stroke-width="0.82"/><rect x="408.50" y="317.92" width="6.3" height="6.3" fill="#fff" stroke="#ff2a2a" stroke-width="0.82"/><circle cx="410.70" cy="318.66" r="3.2" fill="#fff" stroke="#2a2aff" stroke-width="0.82"/><rect x="410.50" y="318.00" width="6.3" height="6.3" fill="#fff" stroke="#ff2a2a" stroke-width="0.82"/><circle cx="412.70" cy="318.70" r="3.2" fill="#fff" stroke="#2a2aff" stroke-width="0.82"/><rect x="412.50" y="318.08" width="6.3" height="6.3" fill="#fff" stroke="#ff2a2a" stroke-width="0.82"/><circle cx="414.70" cy="318.75" r="3.2" fill="#fff" stroke="#2a2aff" stroke-width="0.82"/><rect x="414.50" y="318.16" width="6.3" height="6.3" fill="#fff" stroke="#ff2a2a" stroke-width="0.82"/><circle cx="416.70" cy="318.80" r="3.2" fill="#fff" stroke="#2a2aff" stroke-width="0.82"/><rect x="416.50" y="318.24" width="6.3" height="6.3" fill="#fff" stroke="#ff2a2a" stroke-width="0.82"/><circle cx="418.70" cy="318.85" r="3.2" fill="#fff" stroke="#2a2aff" stroke-width="0.82"/><rect x="418.50" y="318.32" width="6.3" height="6.3" fill="#fff" stroke="#ff2a2a" stroke-width="0.82"/><circle cx="420.70" cy="318.90" r="3.2" fill="#fff" stroke="#2a2aff" stroke-width="0.82"/><rect x="420.50" y="318.40" width="6.3" height="6.3" fill="#fff" stroke="#ff2a2a" stroke-width="0.82"/><circle cx="422.70" cy="318.94" r="3.2" fill="#fff" stroke="#2a2aff" stroke-width="0.82"/><rect x="422.50" y="318.48" width="6.3" height="6.3" fill="#fff" stroke="#ff2a2a" stroke-width="0.82"/><circle cx="424.70" cy="318.99" r="3.2" fill="#fff" stroke="#2a2aff" stroke-width="0.82"/><rect x="424.50" y="318.56" width="6.3" height="6.3" fill="#fff" stroke="#ff2a2a" stroke-width="0.82"/><circle cx="426.70" cy="319.04" r="3.2" fill="#fff" stroke="#2a2aff" stroke-width="0.82"/><rect x="426.50" y="318.64" width="6.3" height="6.3" fill="#fff" stroke="#ff2a2a" stroke-width="0.82"/><circle cx="428.70" cy="319.09" r="3.2" fill="#fff" stroke="#2a2aff" stroke-width="0.82"/><rect x="428.50" y="318.72" width="6.3" height="6.3" fill="#fff" stroke="#ff2a2a" stroke-width="0.82"/><circle cx="430.70" cy="319.14" r="3.2" fill="#fff" stroke="#2a2aff" stroke-width="0.82"/><rect x="430.50" y="318.80" width="6.3" height="6.3" fill="#fff" stroke="#ff2a2a" stroke-width="0.82"/><circle cx="432.70" cy="319.18" r="3.2" fill="#fff" stroke="#2a2aff" stroke-width="0.82"/><rect x="432.50" y="318.88" width="6.3" height="6.3" fill="#fff" stroke="#ff2a2a" stroke-width="0.82"/><circle cx="434.70" cy="319.23" r="3.2" fill="#fff" stroke="#2a2aff" stroke-width="0.82"/><rect x="434.50" y="318.96" width="6.3" height="6.3" fill="#fff" stroke="#ff2a2a" stroke-width="0.82"/><circle cx="436.70" cy="319.28" r="3.2" fill="#fff" stroke="#2a2aff" stroke-width="0.82"/><rect x="436.50" y="319.04" width="6.3" height="6.3" fill="#fff" stroke="#ff2a2a" stroke-width="0.82"/><circle cx="438.70" cy="319.33" r="3.2" fill="#fff" stroke="#2a2aff" stroke-width="0.82"/><rect x="438.50" y="319.12" width="6.3" height="6.3" fill="#fff" stroke="#ff2a2a" stroke-width="0.82"/><circle cx="440.70" cy="319.38" r="3.2" fill="#fff" stroke="#2a2aff" stroke-width="0.82"/><rect x="440.50" y="319.20" width="6.3" height="6.3" fill="#fff" stroke="#ff2a2a" stroke-width="0.82"/><circle cx="442.70" cy="319.42" r="3.2" fill="#fff" stroke="#2a2aff" stroke-width="0.82"/><rect x="442.50" y="319.28" width="6.3" height="6.3" fill="#fff" stroke="#ff2a2a" stroke-width="0.82"/><circle cx="444.70" cy="319.47" r="3.2" fill="#fff" stroke="#2a2aff" stroke-width="0.82"/><rect x="444.50" y="319.36" width="6.3" height="6.3" fill="#fff" stroke="#ff2a2a" stroke-width="0.82"/><circle cx="446.70" cy="319.52" r="3.2" fill="#fff" stroke="#2a2aff" stroke-width="0.82"/><rect x="446.50" y="319.44" width="6.3" height="6.3" fill="#fff" stroke="#ff2a2a" stroke-width="0.82"/><circle cx="448.70" cy="319.57" r="3.2" fill="#fff" stroke="#2a2aff" stroke-width="0.82"/><rect x="448.50" y="319.46" width="6.3" height="6.3" fill="#fff" stroke="#ff2a2a" stroke-width="0.82"/><circle cx="450.70" cy="319.61" r="3.2" fill="#fff" stroke="#2a2aff" stroke-width="0.82"/><rect x="450.50" y="319.48" width="6.3" height="6.3" fill="#fff" stroke="#ff2a2a" stroke-width="0.82"/><circle cx="452.70" cy="319.62" r="3.2" fill="#fff" stroke="#2a2aff" stroke-width="0.82"/><rect x="452.50" y="319.49" width="6.3" height="6.3" fill="#fff" stroke="#ff2a2a" stroke-width="0.82"/><circle cx="454.70" cy="319.63" r="3.2" fill="#fff" stroke="#2a2aff" stroke-width="0.82"/><rect x="454.50" y="319.51" width="6.3" height="6.3" fill="#fff" stroke="#ff2a2a" stroke-width="0.82"/><circle cx="456.70" cy="319.65" r="3.2" fill="#fff" stroke="#2a2aff" stroke-width="0.82"/><rect x="456.50" y="319.52" width="6.3" height="6.3" fill="#fff" stroke="#ff2a2a" stroke-width="0.82"/><circle cx="458.70" cy="319.66" r="3.2" fill="#fff" stroke="#2a2aff" stroke-width="0.82"/><rect x="458.50" y="319.54" width="6.3" height="6.3" fill="#fff" stroke="#ff2a2a" stroke-width="0.82"/><circle cx="460.70" cy="319.68" r="3.2" fill="#fff" stroke="#2a2aff" stroke-width="0.82"/><rect x="460.50" y="319.55" width="6.3" height="6.3" fill="#fff" stroke="#ff2a2a" stroke-width="0.82"/><circle cx="462.70" cy="319.69" r="3.2" fill="#fff" stroke="#2a2aff" stroke-width="0.82"/><rect x="462.50" y="319.57" width="6.3" height="6.3" fill="#fff" stroke="#ff2a2a" stroke-width="0.82"/><circle cx="464.70" cy="319.71" r="3.2" fill="#fff" stroke="#2a2aff" stroke-width="0.82"/><rect x="464.50" y="319.58" width="6.3" height="6.3" fill="#fff" stroke="#ff2a2a" stroke-width="0.82"/><circle cx="466.70" cy="319.72" r="3.2" fill="#fff" stroke="#2a2aff" stroke-width="0.82"/><rect x="466.50" y="319.60" width="6.3" height="6.3" fill="#fff" stroke="#ff2a2a" stroke-width="0.82"/><circle cx="468.70" cy="319.74" r="3.2" fill="#fff" stroke="#2a2aff" stroke-width="0.82"/><rect x="468.50" y="319.61" width="6.3" height="6.3" fill="#fff" stroke="#ff2a2a" stroke-width="0.82"/><circle cx="470.70" cy="319.75" r="3.2" fill="#fff" stroke="#2a2aff" stroke-width="0.82"/><rect x="470.50" y="319.63" width="6.3" height="6.3" fill="#fff" stroke="#ff2a2a" stroke-width="0.82"/><circle cx="472.70" cy="319.77" r="3.2" fill="#fff" stroke="#2a2aff" stroke-width="0.82"/><rect x="472.50" y="319.64" width="6.3" height="6.3" fill="#fff" stroke="#ff2a2a" stroke-width="0.82"/><circle cx="474.70" cy="319.78" r="3.2" fill="#fff" stroke="#2a2aff" stroke-width="0.82"/><rect x="474.50" y="319.65" width="6.3" height="6.3" fill="#fff" stroke="#ff2a2a" stroke-width="0.82"/><circle cx="476.70" cy="319.80" r="3.2" fill="#fff" stroke="#2a2aff" stroke-width="0.82"/><rect x="476.50" y="319.67" width="6.3" height="6.3" fill="#fff" stroke="#ff2a2a" stroke-width="0.82"/><circle cx="478.70" cy="319.81" r="3.2" fill="#fff" stroke="#2a2aff" stroke-width="0.82"/><rect x="478.50" y="319.68" width="6.3" height="6.3" fill="#fff" stroke="#ff2a2a" stroke-width="0.82"/><circle cx="480.70" cy="319.83" r="3.2" fill="#fff" stroke="#2a2aff" stroke-width="0.82"/><rect x="480.50" y="319.70" width="6.3" height="6.3" fill="#fff" stroke="#ff2a2a" stroke-width="0.82"/><circle cx="482.70" cy="319.84" r="3.2" fill="#fff" stroke="#2a2aff" stroke-width="0.82"/><rect x="482.50" y="319.71" width="6.3" height="6.3" fill="#fff" stroke="#ff2a2a" stroke-width="0.82"/><circle cx="484.70" cy="319.86" r="3.2" fill="#fff" stroke="#2a2aff" stroke-width="0.82"/><rect x="484.50" y="319.73" width="6.3" height="6.3" fill="#fff" stroke="#ff2a2a" stroke-width="0.82"/><circle cx="486.70" cy="319.87" r="3.2" fill="#fff" stroke="#2a2aff" stroke-width="0.82"/><rect x="486.50" y="319.74" width="6.3" height="6.3" fill="#fff" stroke="#ff2a2a" stroke-width="0.82"/><circle cx="488.70" cy="319.89" r="3.2" fill="#fff" stroke="#2a2aff" stroke-width="0.82"/><rect x="488.50" y="319.76" width="6.3" height="6.3" fill="#fff" stroke="#ff2a2a" stroke-width="0.82"/><circle cx="490.70" cy="319.90" r="3.2" fill="#fff" stroke="#2a2aff" stroke-width="0.82"/><rect x="490.50" y="319.77" width="6.3" height="6.3" fill="#fff" stroke="#ff2a2a" stroke-width="0.82"/><circle cx="492.70" cy="319.92" r="3.2" fill="#fff" stroke="#2a2aff" stroke-width="0.82"/><rect x="492.50" y="319.79" width="6.3" height="6.3" fill="#fff" stroke="#ff2a2a" stroke-width="0.82"/><circle cx="494.70" cy="319.93" r="3.2" fill="#fff" stroke="#2a2aff" stroke-width="0.82"/><rect x="494.50" y="319.80" width="6.3" height="6.3" fill="#fff" stroke="#ff2a2a" stroke-width="0.82"/><circle cx="496.70" cy="319.95" r="3.2" fill="#fff" stroke="#2a2aff" stroke-width="0.82"/><rect x="496.50" y="319.82" width="6.3" height="6.3" fill="#fff" stroke="#ff2a2a" stroke-width="0.82"/><circle cx="498.70" cy="319.96" r="3.2" fill="#fff" stroke="#2a2aff" stroke-width="0.82"/><rect x="498.50" y="319.83" width="6.3" height="6.3" fill="#fff" stroke="#ff2a2a" stroke-width="0.82"/><circle cx="500.70" cy="319.98" r="3.2" fill="#fff" stroke="#2a2aff" stroke-width="0.82"/><rect x="500.50" y="319.85" width="6.3" height="6.3" fill="#fff" stroke="#ff2a2a" stroke-width="0.82"/><circle cx="502.70" cy="319.99" r="3.2" fill="#fff" stroke="#2a2aff" stroke-width="0.82"/><rect x="502.50" y="319.86" width="6.3" height="6.3" fill="#fff" stroke="#ff2a2a" stroke-width="0.82"/><circle cx="504.70" cy="320.01" r="3.2" fill="#fff" stroke="#2a2aff" stroke-width="0.82"/><rect x="504.50" y="319.88" width="6.3" height="6.3" fill="#fff" stroke="#ff2a2a" stroke-width="0.82"/><circle cx="506.70" cy="320.02" r="3.2" fill="#fff" stroke="#2a2aff" stroke-width="0.82"/><rect x="506.50" y="319.89" width="6.3" height="6.3" fill="#fff" stroke="#ff2a2a" stroke-width="0.82"/><circle cx="508.70" cy="320.03" r="3.2" fill="#fff" stroke="#2a2aff" stroke-width="0.82"/><rect x="508.50" y="319.91" width="6.3" height="6.3" fill="#fff" stroke="#ff2a2a" stroke-width="0.82"/><circle cx="510.70" cy="320.05" r="3.2" fill="#fff" stroke="#2a2aff" stroke-width="0.82"/><rect x="510.50" y="319.92" width="6.3" height="6.3" fill="#fff" stroke="#ff2a2a" stroke-width="0.82"/><circle cx="512.70" cy="320.06" r="3.2" fill="#fff" stroke="#2a2aff" stroke-width="0.82"/><rect x="512.50" y="319.94" width="6.3" height="6.3" fill="#fff" stroke="#ff2a2a" stroke-width="0.82"/><circle cx="514.70" cy="320.08" r="3.2" fill="#fff" stroke="#2a2aff" stroke-width="0.82"/><rect x="514.50" y="319.95" width="6.3" height="6.3" fill="#fff" stroke="#ff2a2a" stroke-width="0.82"/><circle cx="516.70" cy="320.09" r="3.2" fill="#fff" stroke="#2a2aff" stroke-width="0.82"/><rect x="516.50" y="319.97" width="6.3" height="6.3" fill="#fff" stroke="#ff2a2a" stroke-width="0.82"/><circle cx="518.70" cy="320.11" r="3.2" fill="#fff" stroke="#2a2aff" stroke-width="0.82"/><rect x="518.50" y="319.98" width="6.3" height="6.3" fill="#fff" stroke="#ff2a2a" stroke-width="0.82"/><circle cx="520.70" cy="320.12" r="3.2" fill="#fff" stroke="#2a2aff" stroke-width="0.82"/><rect x="520.50" y="320.00" width="6.3" height="6.3" fill="#fff" stroke="#ff2a2a" stroke-width="0.82"/><circle cx="522.70" cy="320.14" r="3.2" fill="#fff" stroke="#2a2aff" stroke-width="0.82"/><rect x="522.50" y="320.01" width="6.3" height="6.3" fill="#fff" stroke="#ff2a2a" stroke-width="0.82"/><circle cx="524.70" cy="320.15" r="3.2" fill="#fff" stroke="#2a2aff" stroke-width="0.82"/><rect x="524.50" y="320.03" width="6.3" height="6.3" fill="#fff" stroke="#ff2a2a" stroke-width="0.82"/><circle cx="526.70" cy="320.17" r="3.2" fill="#fff" stroke="#2a2aff" stroke-width="0.82"/><rect x="526.50" y="320.04" width="6.3" height="6.3" fill="#fff" stroke="#ff2a2a" stroke-width="0.82"/><circle cx="528.70" cy="320.18" r="3.2" fill="#fff" stroke="#2a2aff" stroke-width="0.82"/><circle cx="530.70" cy="320.20" r="3.2" fill="#fff" stroke="#2a2aff" stroke-width="0.82"/><rect x="106.50" y="171.25" width="6.3" height="6.3" fill="#00f" stroke="#ff2a2a" stroke-width="0.82"/><circle cx="108.70" cy="244.80" r="3.2" fill="#f00" stroke="#2a2aff" stroke-width="0.82"/><rect x="108.50" y="126.25" width="6.3" height="6.3" fill="#00f" stroke="#ff2a2a" stroke-width="0.82"/><circle cx="110.70" cy="165.80" r="3.2" fill="#f00" stroke="#2a2aff" stroke-width="0.82"/><rect x="110.50" y="95.35" width="6.3" height="6.3" fill="#00f" stroke="#ff2a2a" stroke-width="0.82"/><circle cx="112.70" cy="114.00" r="3.2" fill="#f00" stroke="#2a2aff" stroke-width="0.82"/><circle cx="114.50" cy="60.70" r="3.2" fill="#f00" stroke="#2a2aff" stroke-width="0.82"/><circle cx="119.50" cy="52.00" r="3.2" fill="#f00" stroke="#2a2aff" stroke-width="0.82"/><circle cx="128.60" cy="38.50" r="3.2" fill="#f00" stroke="#2a2aff" stroke-width="0.82"/>
<g opacity="0.5"><rect x="66.65" y="258.85" width="6.3" height="6.3" fill="#fff" stroke="#ff2a2a" stroke-width="0.82"/><circle cx="70.70" cy="272.00" r="3.2" fill="#fff" stroke="#2a2aff" stroke-width="0.82"/><rect x="68.50" y="273.85" width="6.3" height="6.3" fill="#fff" stroke="#ff2a2a" stroke-width="0.82"/><circle cx="72.70" cy="278.00" r="3.2" fill="#fff" stroke="#2a2aff" stroke-width="0.82"/><rect x="70.50" y="285.35" width="6.3" height="6.3" fill="#fff" stroke="#ff2a2a" stroke-width="0.82"/><circle cx="74.70" cy="283.00" r="3.2" fill="#fff" stroke="#2a2aff" stroke-width="0.82"/><rect x="72.50" y="279.85" width="6.3" height="6.3" fill="#fff" stroke="#ff2a2a" stroke-width="0.82"/><circle cx="76.70" cy="282.50" r="3.2" fill="#fff" stroke="#2a2aff" stroke-width="0.82"/><rect x="74.50" y="273.85" width="6.3" height="6.3" fill="#fff" stroke="#ff2a2a" stroke-width="0.82"/><circle cx="78.70" cy="275.80" r="3.2" fill="#fff" stroke="#2a2aff" stroke-width="0.82"/><rect x="76.50" y="276.85" width="6.3" height="6.3" fill="#fff" stroke="#ff2a2a" stroke-width="0.82"/><circle cx="80.70" cy="266.20" r="3.2" fill="#fff" stroke="#2a2aff" stroke-width="0.82"/><rect x="78.50" y="277.85" width="6.3" height="6.3" fill="#fff" stroke="#ff2a2a" stroke-width="0.82"/><circle cx="82.70" cy="280.00" r="3.2" fill="#fff" stroke="#2a2aff" stroke-width="0.82"/><rect x="80.50" y="282.85" width="6.3" height="6.3" fill="#fff" stroke="#ff2a2a" stroke-width="0.82"/><circle cx="84.70" cy="291.50" r="3.2" fill="#fff" stroke="#2a2aff" stroke-width="0.82"/><rect x="82.50" y="288.35" width="6.3" height="6.3" fill="#fff" stroke="#ff2a2a" stroke-width="0.82"/><circle cx="86.70" cy="282.00" r="3.2" fill="#fff" stroke="#2a2aff" stroke-width="0.82"/><rect x="84.50" y="280.85" width="6.3" height="6.3" fill="#fff" stroke="#ff2a2a" stroke-width="0.82"/><circle cx="88.70" cy="269.20" r="3.2" fill="#fff" stroke="#2a2aff" stroke-width="0.82"/><rect x="86.50" y="275.85" width="6.3" height="6.3" fill="#fff" stroke="#ff2a2a" stroke-width="0.82"/><circle cx="90.70" cy="283.70" r="3.2" fill="#fff" stroke="#2a2aff" stroke-width="0.82"/><rect x="88.50" y="279.85" width="6.3" height="6.3" fill="#fff" stroke="#ff2a2a" stroke-width="0.82"/><circle cx="92.70" cy="288.00" r="3.2" fill="#fff" stroke="#2a2aff" stroke-width="0.82"/><rect x="90.50" y="279.35" width="6.3" height="6.3" fill="#fff" stroke="#ff2a2a" stroke-width="0.82"/><circle cx="94.70" cy="292.00" r="3.2" fill="#fff" stroke="#2a2aff" stroke-width="0.82"/><rect x="92.50" y="281.85" width="6.3" height="6.3" fill="#fff" stroke="#ff2a2a" stroke-width="0.82"/><circle cx="96.70" cy="287.90" r="3.2" fill="#fff" stroke="#2a2aff" stroke-width="0.82"/><rect x="94.50" y="275.85" width="6.3" height="6.3" fill="#fff" stroke="#ff2a2a" stroke-width="0.82"/><circle cx="98.70" cy="280.00" r="3.2" fill="#fff" stroke="#2a2aff" stroke-width="0.82"/><rect x="96.50" y="272.05" width="6.3" height="6.3" fill="#fff" stroke="#ff2a2a" stroke-width="0.82"/><circle cx="100.70" cy="274.60" r="3.2" fill="#fff" stroke="#2a2aff" stroke-width="0.82"/><rect x="98.50" y="258.25" width="6.3" height="6.3" fill="#fff" stroke="#ff2a2a" stroke-width="0.82"/><circle cx="102.70" cy="279.00" r="3.2" fill="#fff" stroke="#2a2aff" stroke-width="0.82"/><rect x="100.50" y="268.85" width="6.3" height="6.3" fill="#fff" stroke="#ff2a2a" stroke-width="0.82"/><circle cx="104.70" cy="283.00" r="3.2" fill="#fff" stroke="#2a2aff" stroke-width="0.82"/><rect x="102.50" y="276.85" width="6.3" height="6.3" fill="#fff" stroke="#ff2a2a" stroke-width="0.82"/><circle cx="106.70" cy="283.00" r="3.2" fill="#fff" stroke="#2a2aff" stroke-width="0.82"/><rect x="104.50" y="213.85" width="6.3" height="6.3" fill="#fff" stroke="#ff2a2a" stroke-width="0.82"/><rect x="114.55" y="69.95" width="6.3" height="6.3" fill="#fff" stroke="#ff2a2a" stroke-width="0.82"/><circle cx="117.80" cy="51.40" r="3.2" fill="#fff" stroke="#2a2aff" stroke-width="0.82"/><circle cx="120.80" cy="31.40" r="3.2" fill="#fff" stroke="#2a2aff" stroke-width="0.82"/><rect x="118.45" y="28.25" width="6.3" height="6.3" fill="#fff" stroke="#ff2a2a" stroke-width="0.82"/><circle cx="123.80" cy="27.90" r="3.2" fill="#fff" stroke="#2a2aff" stroke-width="0.82"/><rect x="122.85" y="43.85" width="6.3" height="6.3" fill="#fff" stroke="#ff2a2a" stroke-width="0.82"/><rect x="123.65" y="50.85" width="6.3" height="6.3" fill="#fff" stroke="#ff2a2a" stroke-width="0.82"/><rect x="126.25" y="28.25" width="6.3" height="6.3" fill="#fff" stroke="#ff2a2a" stroke-width="0.82"/><circle cx="132.70" cy="58.60" r="3.2" fill="#fff" stroke="#2a2aff" stroke-width="0.82"/><rect x="129.95" y="35.25" width="6.3" height="6.3" fill="#fff" stroke="#ff2a2a" stroke-width="0.82"/><circle cx="134.70" cy="69.80" r="3.2" fill="#fff" stroke="#2a2aff" stroke-width="0.82"/><rect x="131.85" y="41.25" width="6.3" height="6.3" fill="#fff" stroke="#ff2a2a" stroke-width="0.82"/><circle cx="136.70" cy="78.80" r="3.2" fill="#fff" stroke="#2a2aff" stroke-width="0.82"/><rect x="133.75" y="49.75" width="6.3" height="6.3" fill="#fff" stroke="#ff2a2a" stroke-width="0.82"/><circle cx="138.70" cy="86.00" r="3.2" fill="#fff" stroke="#2a2aff" stroke-width="0.82"/><rect x="136.50" y="53.85" width="6.3" height="6.3" fill="#fff" stroke="#ff2a2a" stroke-width="0.82"/><circle cx="140.70" cy="97.50" r="3.2" fill="#fff" stroke="#2a2aff" stroke-width="0.82"/><rect x="138.50" y="56.15" width="6.3" height="6.3" fill="#fff" stroke="#ff2a2a" stroke-width="0.82"/><circle cx="142.70" cy="107.20" r="3.2" fill="#fff" stroke="#2a2aff" stroke-width="0.82"/><rect x="140.50" y="58.85" width="6.3" height="6.3" fill="#fff" stroke="#ff2a2a" stroke-width="0.82"/><circle cx="144.70" cy="114.80" r="3.2" fill="#fff" stroke="#2a2aff" stroke-width="0.82"/><rect x="142.50" y="62.85" width="6.3" height="6.3" fill="#fff" stroke="#ff2a2a" stroke-width="0.82"/><circle cx="146.70" cy="122.00" r="3.2" fill="#fff" stroke="#2a2aff" stroke-width="0.82"/><rect x="144.50" y="67.65" width="6.3" height="6.3" fill="#fff" stroke="#ff2a2a" stroke-width="0.82"/><circle cx="148.70" cy="129.20" r="3.2" fill="#fff" stroke="#2a2aff" stroke-width="0.82"/><rect x="146.50" y="79.95" width="6.3" height="6.3" fill="#fff" stroke="#ff2a2a" stroke-width="0.82"/><circle cx="150.70" cy="136.90" r="3.2" fill="#fff" stroke="#2a2aff" stroke-width="0.82"/><rect x="148.50" y="87.15" width="6.3" height="6.3" fill="#fff" stroke="#ff2a2a" stroke-width="0.82"/><circle cx="152.70" cy="143.70" r="3.2" fill="#fff" stroke="#2a2aff" stroke-width="0.82"/><rect x="150.50" y="91.15" width="6.3" height="6.3" fill="#fff" stroke="#ff2a2a" stroke-width="0.82"/><circle cx="154.70" cy="149.50" r="3.2" fill="#fff" stroke="#2a2aff" stroke-width="0.82"/><rect x="152.50" y="95.35" width="6.3" height="6.3" fill="#fff" stroke="#ff2a2a" stroke-width="0.82"/><circle cx="156.70" cy="157.75" r="3.2" fill="#fff" stroke="#2a2aff" stroke-width="0.82"/><rect x="154.50" y="102.15" width="6.3" height="6.3" fill="#fff" stroke="#ff2a2a" stroke-width="0.82"/><circle cx="158.70" cy="167.14" r="3.2" fill="#fff" stroke="#2a2aff" stroke-width="0.82"/><rect x="156.50" y="107.85" width="6.3" height="6.3" fill="#fff" stroke="#ff2a2a" stroke-width="0.82"/><circle cx="160.70" cy="174.63" r="3.2" fill="#fff" stroke="#2a2aff" stroke-width="0.82"/><rect x="158.50" y="113.35" width="6.3" height="6.3" fill="#fff" stroke="#ff2a2a" stroke-width="0.82"/><circle cx="162.70" cy="182.08" r="3.2" fill="#fff" stroke="#2a2aff" stroke-width="0.82"/><rect x="160.50" y="119.85" width="6.3" height="6.3" fill="#fff" stroke="#ff2a2a" stroke-width="0.82"/><circle cx="164.70" cy="189.97" r="3.2" fill="#fff" stroke="#2a2aff" stroke-width="0.82"/><rect x="162.50" y="128.49" width="6.3" height="6.3" fill="#fff" stroke="#ff2a2a" stroke-width="0.82"/><circle cx="166.70" cy="196.53" r="3.2" fill="#fff" stroke="#2a2aff" stroke-width="0.82"/><rect x="164.50" y="134.57" width="6.3" height="6.3" fill="#fff" stroke="#ff2a2a" stroke-width="0.82"/><circle cx="168.70" cy="202.63" r="3.2" fill="#fff" stroke="#2a2aff" stroke-width="0.82"/><rect x="166.50" y="141.34" width="6.3" height="6.3" fill="#fff" stroke="#ff2a2a" stroke-width="0.82"/><circle cx="170.70" cy="208.96" r="3.2" fill="#fff" stroke="#2a2aff" stroke-width="0.82"/><rect x="168.50" y="145.72" width="6.3" height="6.3" fill="#fff" stroke="#ff2a2a" stroke-width="0.82"/><circle cx="172.70" cy="215.10" r="3.2" fill="#fff" stroke="#2a2aff" stroke-width="0.82"/><rect x="170.50" y="150.28" width="6.3" height="6.3" fill="#fff" stroke="#ff2a2a" stroke-width="0.82"/><circle cx="174.70" cy="220.80" r="3.2" fill="#fff" stroke="#2a2aff" stroke-width="0.82"/><rect x="172.50" y="155.30" width="6.3" height="6.3" fill="#fff" stroke="#ff2a2a" stroke-width="0.82"/><circle cx="176.70" cy="226.34" r="3.2" fill="#fff" stroke="#2a2aff" stroke-width="0.82"/><rect x="174.50" y="161.22" width="6.3" height="6.3" fill="#fff" stroke="#ff2a2a" stroke-width="0.82"/><circle cx="178.70" cy="231.29" r="3.2" fill="#fff" stroke="#2a2aff" stroke-width="0.82"/><rect x="176.50" y="166.48" width="6.3" height="6.3" fill="#fff" stroke="#ff2a2a" stroke-width="0.82"/><circle cx="180.70" cy="235.99" r="3.2" fill="#fff" stroke="#2a2aff" stroke-width="0.82"/><rect x="178.50" y="170.31" width="6.3" height="6.3" fill="#fff" stroke="#ff2a2a" stroke-width="0.82"/><circle cx="182.70" cy="240.68" r="3.2" fill="#fff" stroke="#2a2aff" stroke-width="0.82"/><rect x="180.50" y="173.90" width="6.3" height="6.3" fill="#fff" stroke="#ff2a2a" stroke-width="0.82"/><circle cx="184.70" cy="245.38" r="3.2" fill="#fff" stroke="#2a2aff" stroke-width="0.82"/><rect x="182.50" y="177.63" width="6.3" height="6.3" fill="#fff" stroke="#ff2a2a" stroke-width="0.82"/><circle cx="186.70" cy="249.53" r="3.2" fill="#fff" stroke="#2a2aff" stroke-width="0.82"/><rect x="184.50" y="181.37" width="6.3" height="6.3" fill="#fff" stroke="#ff2a2a" stroke-width="0.82"/><circle cx="188.70" cy="252.87" r="3.2" fill="#fff" stroke="#2a2aff" stroke-width="0.82"/><rect x="186.50" y="185.10" width="6.3" height="6.3" fill="#fff" stroke="#ff2a2a" stroke-width="0.82"/><circle cx="190.70" cy="256.20" r="3.2" fill="#fff" stroke="#2a2aff" stroke-width="0.82"/><rect x="188.50" y="188.82" width="6.3" height="6.3" fill="#fff" stroke="#ff2a2a" stroke-width="0.82"/><circle cx="192.70" cy="258.65" r="3.2" fill="#fff" stroke="#2a2aff" stroke-width="0.82"/><rect x="190.50" y="192.54" width="6.3" height="6.3" fill="#fff" stroke="#ff2a2a" stroke-width="0.82"/><circle cx="194.70" cy="261.11" r="3.2" fill="#fff" stroke="#2a2aff" stroke-width="0.82"/><rect x="192.50" y="196.03" width="6.3" height="6.3" fill="#fff" stroke="#ff2a2a" stroke-width="0.82"/><circle cx="196.70" cy="263.30" r="3.2" fill="#fff" stroke="#2a2aff" stroke-width="0.82"/><rect x="194.50" y="199.52" width="6.3" height="6.3" fill="#fff" stroke="#ff2a2a" stroke-width="0.82"/><circle cx="198.70" cy="265.03" r="3.2" fill="#fff" stroke="#2a2aff" stroke-width="0.82"/><rect x="196.50" y="202.79" width="6.3" height="6.3" fill="#fff" stroke="#ff2a2a" stroke-width="0.82"/><circle cx="200.70" cy="266.75" r="3.2" fill="#fff" stroke="#2a2aff" stroke-width="0.82"/><rect x="198.50" y="205.62" width="6.3" height="6.3" fill="#fff" stroke="#ff2a2a" stroke-width="0.82"/><circle cx="202.70" cy="268.46" r="3.2" fill="#fff" stroke="#2a2aff" stroke-width="0.82"/><rect x="200.50" y="207.71" width="6.3" height="6.3" fill="#fff" stroke="#ff2a2a" stroke-width="0.82"/><circle cx="204.70" cy="270.07" r="3.2" fill="#fff" stroke="#2a2aff" stroke-width="0.82"/><rect x="202.50" y="209.80" width="6.3" height="6.3" fill="#fff" stroke="#ff2a2a" stroke-width="0.82"/><circle cx="206.70" cy="271.67" r="3.2" fill="#fff" stroke="#2a2aff" stroke-width="0.82"/><rect x="204.50" y="211.89" width="6.3" height="6.3" fill="#fff" stroke="#ff2a2a" stroke-width="0.82"/><circle cx="208.70" cy="273.26" r="3.2" fill="#fff" stroke="#2a2aff" stroke-width="0.82"/><rect x="206.50" y="213.98" width="6.3" height="6.3" fill="#fff" stroke="#ff2a2a" stroke-width="0.82"/><circle cx="210.70" cy="274.51" r="3.2" fill="#fff" stroke="#2a2aff" stroke-width="0.82"/><rect x="208.50" y="215.75" width="6.3" height="6.3" fill="#fff" stroke="#ff2a2a" stroke-width="0.82"/><circle cx="212.70" cy="275.76" r="3.2" fill="#fff" stroke="#2a2aff" stroke-width="0.82"/><rect x="210.50" y="217.45" width="6.3" height="6.3" fill="#fff" stroke="#ff2a2a" stroke-width="0.82"/><circle cx="214.70" cy="277.01" r="3.2" fill="#fff" stroke="#2a2aff" stroke-width="0.82"/><rect x="212.50" y="219.15" width="6.3" height="6.3" fill="#fff" stroke="#ff2a2a" stroke-width="0.82"/><circle cx="216.70" cy="278.07" r="3.2" fill="#fff" stroke="#2a2aff" stroke-width="0.82"/><rect x="214.50" y="220.85" width="6.3" height="6.3" fill="#fff" stroke="#ff2a2a" stroke-width="0.82"/><circle cx="218.70" cy="279.09" r="3.2" fill="#fff" stroke="#2a2aff" stroke-width="0.82"/><rect x="216.50" y="222.55" width="6.3" height="6.3" fill="#fff" stroke="#ff2a2a" stroke-width="0.82"/><circle cx="220.70" cy="280.11" r="3.2" fill="#fff" stroke="#2a2aff" stroke-width="0.82"/><rect x="218.50" y="224.58" width="6.3" height="6.3" fill="#fff" stroke="#ff2a2a" stroke-width="0.82"/><circle cx="222.70" cy="281.13" r="3.2" fill="#fff" stroke="#2a2aff" stroke-width="0.82"/><rect x="220.50" y="226.68" width="6.3" height="6.3" fill="#fff" stroke="#ff2a2a" stroke-width="0.82"/><circle cx="224.70" cy="282.15" r="3.2" fill="#fff" stroke="#2a2aff" stroke-width="0.82"/><rect x="222.50" y="228.78" width="6.3" height="6.3" fill="#fff" stroke="#ff2a2a" stroke-width="0.82"/><circle cx="226.70" cy="283.10" r="3.2" fill="#fff" stroke="#2a2aff" stroke-width="0.82"/><rect x="224.50" y="230.88" width="6.3" height="6.3" fill="#fff" stroke="#ff2a2a" stroke-width="0.82"/><circle cx="228.70" cy="284.04" r="3.2" fill="#fff" stroke="#2a2aff" stroke-width="0.82"/><rect x="226.50" y="232.98" width="6.3" height="6.3" fill="#fff" stroke="#ff2a2a" stroke-width="0.82"/><circle cx="230.70" cy="284.98" r="3.2" fill="#fff" stroke="#2a2aff" stroke-width="0.82"/><rect x="228.50" y="235.08" width="6.3" height="6.3" fill="#fff" stroke="#ff2a2a" stroke-width="0.82"/><circle cx="232.70" cy="285.92" r="3.2" fill="#fff" stroke="#2a2aff" stroke-width="0.82"/><rect x="230.50" y="237.18" width="6.3" height="6.3" fill="#fff" stroke="#ff2a2a" stroke-width="0.82"/><circle cx="234.70" cy="286.86" r="3.2" fill="#fff" stroke="#2a2aff" stroke-width="0.82"/><rect x="232.50" y="239.28" width="6.3" height="6.3" fill="#fff" stroke="#ff2a2a" stroke-width="0.82"/><circle cx="236.70" cy="287.80" r="3.2" fill="#fff" stroke="#2a2aff" stroke-width="0.82"/><rect x="234.50" y="241.38" width="6.3" height="6.3" fill="#fff" stroke="#ff2a2a" stroke-width="0.82"/><circle cx="238.70" cy="288.74" r="3.2" fill="#fff" stroke="#2a2aff" stroke-width="0.82"/><rect x="236.50" y="243.48" width="6.3" height="6.3" fill="#fff" stroke="#ff2a2a" stroke-width="0.82"/><circle cx="240.70" cy="289.68" r="3.2" fill="#fff" stroke="#2a2aff" stroke-width="0.82"/><rect x="238.50" y="245.49" width="6.3" height="6.3" fill="#fff" stroke="#ff2a2a" stroke-width="0.82"/><circle cx="242.70" cy="290.62" r="3.2" fill="#fff" stroke="#2a2aff" stroke-width="0.82"/><rect x="240.50" y="247.47" width="6.3" height="6.3" fill="#fff" stroke="#ff2a2a" stroke-width="0.82"/><circle cx="244.70" cy="291.56" r="3.2" fill="#fff" stroke="#2a2aff" stroke-width="0.82"/><rect x="242.50" y="249.45" width="6.3" height="6.3" fill="#fff" stroke="#ff2a2a" stroke-width="0.82"/><circle cx="246.70" cy="292.36" r="3.2" fill="#fff" stroke="#2a2aff" stroke-width="0.82"/><rect x="244.50" y="251.43" width="6.3" height="6.3" fill="#fff" stroke="#ff2a2a" stroke-width="0.82"/><circle cx="248.70" cy="293.15" r="3.2" fill="#fff" stroke="#2a2aff" stroke-width="0.82"/><rect x="246.50" y="253.41" width="6.3" height="6.3" fill="#fff" stroke="#ff2a2a" stroke-width="0.82"/><circle cx="250.70" cy="293.93" r="3.2" fill="#fff" stroke="#2a2aff" stroke-width="0.82"/><rect x="248.50" y="255.39" width="6.3" height="6.3" fill="#fff" stroke="#ff2a2a" stroke-width="0.82"/><circle cx="252.70" cy="294.71" r="3.2" fill="#fff" stroke="#2a2aff" stroke-width="0.82"/><rect x="250.50" y="257.38" width="6.3" height="6.3" fill="#fff" stroke="#ff2a2a" stroke-width="0.82"/><circle cx="254.70" cy="295.49" r="3.2" fill="#fff" stroke="#2a2aff" stroke-width="0.82"/><rect x="252.50" y="259.36" width="6.3" height="6.3" fill="#fff" stroke="#ff2a2a" stroke-width="0.82"/><circle cx="256.70" cy="296.30" r="3.2" fill="#fff" stroke="#2a2aff" stroke-width="0.82"/><rect x="254.50" y="261.34" width="6.3" height="6.3" fill="#fff" stroke="#ff2a2a" stroke-width="0.82"/><circle cx="258.70" cy="297.14" r="3.2" fill="#fff" stroke="#2a2aff" stroke-width="0.82"/><rect x="256.50" y="263.32" width="6.3" height="6.3" fill="#fff" stroke="#ff2a2a" stroke-width="0.82"/><circle cx="260.70" cy="297.98" r="3.2" fill="#fff" stroke="#2a2aff" stroke-width="0.82"/><rect x="258.50" y="265.30" width="6.3" height="6.3" fill="#fff" stroke="#ff2a2a" stroke-width="0.82"/><circle cx="262.70" cy="298.83" r="3.2" fill="#fff" stroke="#2a2aff" stroke-width="0.82"/><rect x="260.50" y="266.86" width="6.3" height="6.3" fill="#fff" stroke="#ff2a2a" stroke-width="0.82"/><circle cx="264.70" cy="299.67" r="3.2" fill="#fff" stroke="#2a2aff" stroke-width="0.82"/><rect x="262.50" y="268.33" width="6.3" height="6.3" fill="#fff" stroke="#ff2a2a" stroke-width="0.82"/><circle cx="266.70" cy="300.31" r="3.2" fill="#fff" stroke="#2a2aff" stroke-width="0.82"/><rect x="264.50" y="269.79" width="6.3" height="6.3" fill="#fff" stroke="#ff2a2a" stroke-width="0.82"/><circle cx="268.70" cy="300.91" r="3.2" fill="#fff" stroke="#2a2aff" stroke-width="0.82"/><rect x="266.50" y="271.26" width="6.3" height="6.3" fill="#fff" stroke="#ff2a2a" stroke-width="0.82"/><circle cx="270.70" cy="301.51" r="3.2" fill="#fff" stroke="#2a2aff" stroke-width="0.82"/><rect x="268.50" y="272.73" width="6.3" height="6.3" fill="#fff" stroke="#ff2a2a" stroke-width="0.82"/><circle cx="272.70" cy="302.11" r="3.2" fill="#fff" stroke="#2a2aff" stroke-width="0.82"/><rect x="270.50" y="274.19" width="6.3" height="6.3" fill="#fff" stroke="#ff2a2a" stroke-width="0.82"/><circle cx="274.70" cy="302.71" r="3.2" fill="#fff" stroke="#2a2aff" stroke-width="0.82"/><rect x="272.50" y="275.66" width="6.3" height="6.3" fill="#fff" stroke="#ff2a2a" stroke-width="0.82"/><circle cx="276.70" cy="303.28" r="3.2" fill="#fff" stroke="#2a2aff" stroke-width="0.82"/><rect x="274.50" y="277.13" width="6.3" height="6.3" fill="#fff" stroke="#ff2a2a" stroke-width="0.82"/><circle cx="278.70" cy="303.84" r="3.2" fill="#fff" stroke="#2a2aff" stroke-width="0.82"/><rect x="276.50" y="278.59" width="6.3" height="6.3" fill="#fff" stroke="#ff2a2a" stroke-width="0.82"/><circle cx="280.70" cy="304.40" r="3.2" fill="#fff" stroke="#2a2aff" stroke-width="0.82"/><rect x="278.50" y="279.97" width="6.3" height="6.3" fill="#fff" stroke="#ff2a2a" stroke-width="0.82"/><circle cx="282.70" cy="304.96" r="3.2" fill="#fff" stroke="#2a2aff" stroke-width="0.82"/><rect x="280.50" y="281.32" width="6.3" height="6.3" fill="#fff" stroke="#ff2a2a" stroke-width="0.82"/><circle cx="284.70" cy="305.52" r="3.2" fill="#fff" stroke="#2a2aff" stroke-width="0.82"/><rect x="282.50" y="282.67" width="6.3" height="6.3" fill="#fff" stroke="#ff2a2a" stroke-width="0.82"/><circle cx="286.70" cy="306.08" r="3.2" fill="#fff" stroke="#2a2aff" stroke-width="0.82"/><rect x="284.50" y="284.03" width="6.3" height="6.3" fill="#fff" stroke="#ff2a2a" stroke-width="0.82"/><circle cx="288.70" cy="306.64" r="3.2" fill="#fff" stroke="#2a2aff" stroke-width="0.82"/><rect x="286.50" y="285.38" width="6.3" height="6.3" fill="#fff" stroke="#ff2a2a" stroke-width="0.82"/><circle cx="290.70" cy="307.12" r="3.2" fill="#fff" stroke="#2a2aff" stroke-width="0.82"/><rect x="288.50" y="286.73" width="6.3" height="6.3" fill="#fff" stroke="#ff2a2a" stroke-width="0.82"/><circle cx="292.70" cy="307.47" r="3.2" fill="#fff" stroke="#2a2aff" stroke-width="0.82"/><rect x="290.50" y="288.08" width="6.3" height="6.3" fill="#fff" stroke="#ff2a2a" stroke-width="0.82"/><circle cx="294.70" cy="307.82" r="3.2" fill="#fff" stroke="#2a2aff" stroke-width="0.82"/><rect x="292.50" y="289.44" width="6.3" height="6.3" fill="#fff" stroke="#ff2a2a" stroke-width="0.82"/><circle cx="296.70" cy="308.17" r="3.2" fill="#fff" stroke="#2a2aff" stroke-width="0.82"/><rect x="294.50" y="290.75" width="6.3" height="6.3" fill="#fff" stroke="#ff2a2a" stroke-width="0.82"/><circle cx="298.70" cy="308.52" r="3.2" fill="#fff" stroke="#2a2aff" stroke-width="0.82"/><rect x="296.50" y="291.98" width="6.3" height="6.3" fill="#fff" stroke="#ff2a2a" stroke-width="0.82"/><circle cx="300.70" cy="308.87" r="3.2" fill="#fff" stroke="#2a2aff" stroke-width="0.82"/><rect x="298.50" y="293.21" width="6.3" height="6.3" fill="#fff" stroke="#ff2a2a" stroke-width="0.82"/><circle cx="302.70" cy="309.22" r="3.2" fill="#fff" stroke="#2a2aff" stroke-width="0.82"/><rect x="300.50" y="294.44" width="6.3" height="6.3" fill="#fff" stroke="#ff2a2a" stroke-width="0.82"/><circle cx="304.70" cy="309.57" r="3.2" fill="#fff" stroke="#2a2aff" stroke-width="0.82"/><rect x="302.50" y="295.67" width="6.3" height="6.3" fill="#fff" stroke="#ff2a2a" stroke-width="0.82"/><circle cx="306.70" cy="309.92" r="3.2" fill="#fff" stroke="#2a2aff" stroke-width="0.82"/><rect x="304.50" y="296.90" width="6.3" height="6.3" fill="#fff" stroke="#ff2a2a" stroke-width="0.82"/><circle cx="308.70" cy="310.27" r="3.2" fill="#fff" stroke="#2a2aff" stroke-width="0.82"/><rect x="306.50" y="298.13" width="6.3" height="6.3" fill="#fff" stroke="#ff2a2a" stroke-width="0.82"/><circle cx="310.70" cy="310.61" r="3.2" fill="#fff" stroke="#2a2aff" stroke-width="0.82"/><rect x="308.50" y="299.08" width="6.3" height="6.3" fill="#fff" stroke="#ff2a2a" stroke-width="0.82"/><circle cx="312.70" cy="310.93" r="3.2" fill="#fff" stroke="#2a2aff" stroke-width="0.82"/><rect x="310.50" y="299.96" width="6.3" height="6.3" fill="#fff" stroke="#ff2a2a" stroke-width="0.82"/><circle cx="314.70" cy="311.25" r="3.2" fill="#fff" stroke="#2a2aff" stroke-width="0.82"/><rect x="312.50" y="300.84" width="6.3" height="6.3" fill="#fff" stroke="#ff2a2a" stroke-width="0.82"/><circle cx="316.70" cy="311.57" r="3.2" fill="#fff" stroke="#2a2aff" stroke-width="0.82"/><rect x="314.50" y="301.72" width="6.3" height="6.3" fill="#fff" stroke="#ff2a2a" stroke-width="0.82"/><circle cx="318.70" cy="311.89" r="3.2" fill="#fff" stroke="#2a2aff" stroke-width="0.82"/><rect x="316.50" y="302.60" width="6.3" height="6.3" fill="#fff" stroke="#ff2a2a" stroke-width="0.82"/><circle cx="320.70" cy="312.21" r="3.2" fill="#fff" stroke="#2a2aff" stroke-width="0.82"/><rect x="318.50" y="303.48" width="6.3" height="6.3" fill="#fff" stroke="#ff2a2a" stroke-width="0.82"/><circle cx="322.70" cy="312.53" r="3.2" fill="#fff" stroke="#2a2aff" stroke-width="0.82"/><rect x="320.50" y="304.36" width="6.3" height="6.3" fill="#fff" stroke="#ff2a2a" stroke-width="0.82"/><circle cx="324.70" cy="312.85" r="3.2" fill="#fff" stroke="#2a2aff" stroke-width="0.82"/><rect x="322.50" y="305.24" width="6.3" height="6.3" fill="#fff" stroke="#ff2a2a" stroke-width="0.82"/><circle cx="326.70" cy="313.17" r="3.2" fill="#fff" stroke="#2a2aff" stroke-width="0.82"/><rect x="324.50" y="306.12" width="6.3" height="6.3" fill="#fff" stroke="#ff2a2a" stroke-width="0.82"/><circle cx="328.70" cy="313.49" r="3.2" fill="#fff" stroke="#2a2aff" stroke-width="0.82"/><rect x="326.50" y="307.00" width="6.3" height="6.3" fill="#fff" stroke="#ff2a2a" stroke-width="0.82"/><circle cx="330.70" cy="313.77" r="3.2" fill="#fff" stroke="#2a2aff" stroke-width="0.82"/><rect x="328.50" y="307.59" width="6.3" height="6.3" fill="#fff" stroke="#ff2a2a" stroke-width="0.82"/><circle cx="332.70" cy="313.98" r="3.2" fill="#fff" stroke="#2a2aff" stroke-width="0.82"/><rect x="330.50" y="308.12" width="6.3" height="6.3" fill="#fff" stroke="#ff2a2a" stroke-width="0.82"/><circle cx="334.70" cy="314.19" r="3.2" fill="#fff" stroke="#2a2aff" stroke-width="0.82"/><rect x="332.50" y="308.66" width="6.3" height="6.3" fill="#fff" stroke="#ff2a2a" stroke-width="0.82"/><circle cx="336.70" cy="314.39" r="3.2" fill="#fff" stroke="#2a2aff" stroke-width="0.82"/><rect x="334.50" y="309.19" width="6.3" height="6.3" fill="#fff" stroke="#ff2a2a" stroke-width="0.82"/><circle cx="338.70" cy="314.60" r="3.2" fill="#fff" stroke="#2a2aff" stroke-width="0.82"/><rect x="336.50" y="309.72" width="6.3" height="6.3" fill="#fff" stroke="#ff2a2a" stroke-width="0.82"/><circle cx="340.70" cy="314.81" r="3.2" fill="#fff" stroke="#2a2aff" stroke-width="0.82"/><rect x="338.50" y="310.26" width="6.3" height="6.3" fill="#fff" stroke="#ff2a2a" stroke-width="0.82"/><circle cx="342.70" cy="315.01" r="3.2" fill="#fff" stroke="#2a2aff" stroke-width="0.82"/><rect x="340.50" y="310.79" width="6.3" height="6.3" fill="#fff" stroke="#ff2a2a" stroke-width="0.82"/><circle cx="344.70" cy="315.22" r="3.2" fill="#fff" stroke="#2a2aff" stroke-width="0.82"/><rect x="342.50" y="311.28" width="6.3" height="6.3" fill="#fff" stroke="#ff2a2a" stroke-width="0.82"/><circle cx="346.70" cy="315.43" r="3.2" fill="#fff" stroke="#2a2aff" stroke-width="0.82"/><rect x="344.50" y="311.68" width="6.3" height="6.3" fill="#fff" stroke="#ff2a2a" stroke-width="0.82"/><circle cx="348.70" cy="315.63" r="3.2" fill="#fff" stroke="#2a2aff" stroke-width="0.82"/><rect x="346.50" y="312.08" width="6.3" height="6.3" fill="#fff" stroke="#ff2a2a" stroke-width="0.82"/><circle cx="350.70" cy="315.84" r="3.2" fill="#fff" stroke="#2a2aff" stroke-width="0.82"/><rect x="348.50" y="312.48" width="6.3" height="6.3" fill="#fff" stroke="#ff2a2a" stroke-width="0.82"/><circle cx="352.70" cy="316.05" r="3.2" fill="#fff" stroke="#2a2aff" stroke-width="0.82"/><rect x="350.50" y="312.88" width="6.3" height="6.3" fill="#fff" stroke="#ff2a2a" stroke-width="0.82"/><circle cx="354.70" cy="316.25" r="3.2" fill="#fff" stroke="#2a2aff" stroke-width="0.82"/><rect x="352.50" y="313.28" width="6.3" height="6.3" fill="#fff" stroke="#ff2a2a" stroke-width="0.82"/><circle cx="356.70" cy="316.46" r="3.2" fill="#fff" stroke="#2a2aff" stroke-width="0.82"/><rect x="354.50" y="313.68" width="6.3" height="6.3" fill="#fff" stroke="#ff2a2a" stroke-width="0.82"/><circle cx="358.70" cy="316.67" r="3.2" fill="#fff" stroke="#2a2aff" stroke-width="0.82"/><rect x="356.50" y="314.08" width="6.3" height="6.3" fill="#fff" stroke="#ff2a2a" stroke-width="0.82"/><circle cx="360.70" cy="316.83" r="3.2" fill="#fff" stroke="#2a2aff" stroke-width="0.82"/><rect x="358.50" y="314.32" width="6.3" height="6.3" fill="#fff" stroke="#ff2a2a" stroke-width="0.82"/><circle cx="362.70" cy="316.91" r="3.2" fill="#fff" stroke="#2a2aff" stroke-width="0.82"/><rect x="360.50" y="314.52" width="6.3" height="6.3" fill="#fff" stroke="#ff2a2a" stroke-width="0.82"/><circle cx="364.70" cy="316.99" r="3.2" fill="#fff" stroke="#2a2aff" stroke-width="0.82"/><rect x="362.50" y="314.72" width="6.3" height="6.3" fill="#fff" stroke="#ff2a2a" stroke-width="0.82"/><circle cx="366.70" cy="317.07" r="3.2" fill="#fff" stroke="#2a2aff" stroke-width="0.82"/><rect x="364.50" y="314.92" width="6.3" height="6.3" fill="#fff" stroke="#ff2a2a" stroke-width="0.82"/><circle cx="368.70" cy="317.15" r="3.2" fill="#fff" stroke="#2a2aff" stroke-width="0.82"/><rect x="366.50" y="315.12" width="6.3" height="6.3" fill="#fff" stroke="#ff2a2a" stroke-width="0.82"/><circle cx="370.70" cy="317.23" r="3.2" fill="#fff" stroke="#2a2aff" stroke-width="0.82"/><rect x="368.50" y="315.32" width="6.3" height="6.3" fill="#fff" stroke="#ff2a2a" stroke-width="0.82"/><circle cx="372.70" cy="317.31" r="3.2" fill="#fff" stroke="#2a2aff" stroke-width="0.82"/><rect x="370.50" y="315.52" width="6.3" height="6.3" fill="#fff" stroke="#ff2a2a" stroke-width="0.82"/><circle cx="374.70" cy="317.39" r="3.2" fill="#fff" stroke="#2a2aff" stroke-width="0.82"/><rect x="372.50" y="315.72" width="6.3" height="6.3" fill="#fff" stroke="#ff2a2a" stroke-width="0.82"/><circle cx="376.70" cy="317.47" r="3.2" fill="#fff" stroke="#2a2aff" stroke-width="0.82"/><rect x="374.50" y="315.92" width="6.3" height="6.3" fill="#fff" stroke="#ff2a2a" stroke-width="0.82"/><circle cx="378.70" cy="317.55" r="3.2" fill="#fff" stroke="#2a2aff" stroke-width="0.82"/><rect x="376.50" y="316.12" width="6.3" height="6.3" fill="#fff" stroke="#ff2a2a" stroke-width="0.82"/><circle cx="380.70" cy="317.63" r="3.2" fill="#fff" stroke="#2a2aff" stroke-width="0.82"/><rect x="378.50" y="316.26" width="6.3" height="6.3" fill="#fff" stroke="#ff2a2a" stroke-width="0.82"/><circle cx="382.70" cy="317.71" r="3.2" fill="#fff" stroke="#2a2aff" stroke-width="0.82"/><rect x="380.50" y="316.39" width="6.3" height="6.3" fill="#fff" stroke="#ff2a2a" stroke-width="0.82"/><circle cx="384.70" cy="317.79" r="3.2" fill="#fff" stroke="#2a2aff" stroke-width="0.82"/><rect x="382.50" y="316.52" width="6.3" height="6.3" fill="#fff" stroke="#ff2a2a" stroke-width="0.82"/><circle cx="386.70" cy="317.87" r="3.2" fill="#fff" stroke="#2a2aff" stroke-width="0.82"/><rect x="384.50" y="316.65" width="6.3" height="6.3" fill="#fff" stroke="#ff2a2a" stroke-width="0.82"/><circle cx="388.70" cy="317.95" r="3.2" fill="#fff" stroke="#2a2aff" stroke-width="0.82"/><rect x="386.50" y="316.78" width="6.3" height="6.3" fill="#fff" stroke="#ff2a2a" stroke-width="0.82"/><circle cx="390.70" cy="318.03" r="3.2" fill="#fff" stroke="#2a2aff" stroke-width="0.82"/><rect x="388.50" y="316.91" width="6.3" height="6.3" fill="#fff" stroke="#ff2a2a" stroke-width="0.82"/><circle cx="392.70" cy="318.11" r="3.2" fill="#fff" stroke="#2a2aff" stroke-width="0.82"/><rect x="390.50" y="317.04" width="6.3" height="6.3" fill="#fff" stroke="#ff2a2a" stroke-width="0.82"/><circle cx="394.70" cy="318.19" r="3.2" fill="#fff" stroke="#2a2aff" stroke-width="0.82"/><rect x="392.50" y="317.17" width="6.3" height="6.3" fill="#fff" stroke="#ff2a2a" stroke-width="0.82"/><circle cx="396.70" cy="318.27" r="3.2" fill="#fff" stroke="#2a2aff" stroke-width="0.82"/><rect x="394.50" y="317.30" width="6.3" height="6.3" fill="#fff" stroke="#ff2a2a" stroke-width="0.82"/><circle cx="398.70" cy="318.35" r="3.2" fill="#fff" stroke="#2a2aff" stroke-width="0.82"/><rect x="396.50" y="317.43" width="6.3" height="6.3" fill="#fff" stroke="#ff2a2a" stroke-width="0.82"/><circle cx="400.70" cy="318.42" r="3.2" fill="#fff" stroke="#2a2aff" stroke-width="0.82"/><rect x="398.50" y="317.52" width="6.3" height="6.3" fill="#fff" stroke="#ff2a2a" stroke-width="0.82"/><circle cx="402.70" cy="318.46" r="3.2" fill="#fff" stroke="#2a2aff" stroke-width="0.82"/><rect x="400.50" y="317.60" width="6.3" height="6.3" fill="#fff" stroke="#ff2a2a" stroke-width="0.82"/><circle cx="404.70" cy="318.51" r="3.2" fill="#fff" stroke="#2a2aff" stroke-width="0.82"/><rect x="402.50" y="317.68" width="6.3" height="6.3" fill="#fff" stroke="#ff2a2a" stroke-width="0.82"/><circle cx="406.70" cy="318.56" r="3.2" fill="#fff" stroke="#2a2aff" stroke-width="0.82"/><rect x="404.50" y="317.76" width="6.3" height="6.3" fill="#fff" stroke="#ff2a2a" stroke-width="0.82"/><circle cx="408.70" cy="318.61" r="3.2" fill="#fff" stroke="#2a2aff" stroke-width="0.82"/><rect x="406.50" y="317.84" width="6.3" height="6.3" fill="#fff" stroke="#ff2a2a" stroke-width="0.82"/><circle cx="410.70" cy="318.66" r="3.2" fill="#fff" stroke="#2a2aff" stroke-width="0.82"/><rect x="408.50" y="317.92" width="6.3" height="6.3" fill="#fff" stroke="#ff2a2a" stroke-width="0.82"/><circle cx="412.70" cy="318.70" r="3.2" fill="#fff" stroke="#2a2aff" stroke-width="0.82"/><rect x="410.50" y="318.00" width="6.3" height="6.3" fill="#fff" stroke="#ff2a2a" stroke-width="0.82"/><circle cx="414.70" cy="318.75" r="3.2" fill="#fff" stroke="#2a2aff" stroke-width="0.82"/><rect x="412.50" y="318.08" width="6.3" height="6.3" fill="#fff" stroke="#ff2a2a" stroke-width="0.82"/><circle cx="416.70" cy="318.80" r="3.2" fill="#fff" stroke="#2a2aff" stroke-width="0.82"/><rect x="414.50" y="318.16" width="6.3" height="6.3" fill="#fff" stroke="#ff2a2a" stroke-width="0.82"/><circle cx="418.70" cy="318.85" r="3.2" fill="#fff" stroke="#2a2aff" stroke-width="0.82"/><rect x="416.50" y="318.24" width="6.3" height="6.3" fill="#fff" stroke="#ff2a2a" stroke-width="0.82"/><circle cx="420.70" cy="318.90" r="3.2" fill="#fff" stroke="#2a2aff" stroke-width="0.82"/><rect x="418.50" y="318.32" width="6.3" height="6.3" fill="#fff" stroke="#ff2a2a" stroke-width="0.82"/><circle cx="422.70" cy="318.94" r="3.2" fill="#fff" stroke="#2a2aff" stroke-width="0.82"/><rect x="420.50" y="318.40" width="6.3" height="6.3" fill="#fff" stroke="#ff2a2a" stroke-width="0.82"/><circle cx="424.70" cy="318.99" r="3.2" fill="#fff" stroke="#2a2aff" stroke-width="0.82"/><rect x="422.50" y="318.48" width="6.3" height="6.3" fill="#fff" stroke="#ff2a2a" stroke-width="0.82"/><circle cx="426.70" cy="319.04" r="3.2" fill="#fff" stroke="#2a2aff" stroke-width="0.82"/><rect x="424.50" y="318.56" width="6.3" height="6.3" fill="#fff" stroke="#ff2a2a" stroke-width="0.82"/><circle cx="428.70" cy="319.09" r="3.2" fill="#fff" stroke="#2a2aff" stroke-width="0.82"/><rect x="426.50" y="318.64" width="6.3" height="6.3" fill="#fff" stroke="#ff2a2a" stroke-width="0.82"/><circle cx="430.70" cy="319.14" r="3.2" fill="#fff" stroke="#2a2aff" stroke-width="0.82"/><rect x="428.50" y="318.72" width="6.3" height="6.3" fill="#fff" stroke="#ff2a2a" stroke-width="0.82"/><circle cx="432.70" cy="319.18" r="3.2" fill="#fff" stroke="#2a2aff" stroke-width="0.82"/><rect x="430.50" y="318.80" width="6.3" height="6.3" fill="#fff" stroke="#ff2a2a" stroke-width="0.82"/><circle cx="434.70" cy="319.23" r="3.2" fill="#fff" stroke="#2a2aff" stroke-width="0.82"/><rect x="432.50" y="318.88" width="6.3" height="6.3" fill="#fff" stroke="#ff2a2a" stroke-width="0.82"/><circle cx="436.70" cy="319.28" r="3.2" fill="#fff" stroke="#2a2aff" stroke-width="0.82"/><rect x="434.50" y="318.96" width="6.3" height="6.3" fill="#fff" stroke="#ff2a2a" stroke-width="0.82"/><circle cx="438.70" cy="319.33" r="3.2" fill="#fff" stroke="#2a2aff" stroke-width="0.82"/><rect x="436.50" y="319.04" width="6.3" height="6.3" fill="#fff" stroke="#ff2a2a" stroke-width="0.82"/><circle cx="440.70" cy="319.38" r="3.2" fill="#fff" stroke="#2a2aff" stroke-width="0.82"/><rect x="438.50" y="319.12" width="6.3" height="6.3" fill="#fff" stroke="#ff2a2a" stroke-width="0.82"/><circle cx="442.70" cy="319.42" r="3.2" fill="#fff" stroke="#2a2aff" stroke-width="0.82"/><rect x="440.50" y="319.20" width="6.3" height="6.3" fill="#fff" stroke="#ff2a2a" stroke-width="0.82"/><circle cx="444.70" cy="319.47" r="3.2" fill="#fff" stroke="#2a2aff" stroke-width="0.82"/><rect x="442.50" y="319.28" width="6.3" height="6.3" fill="#fff" stroke="#ff2a2a" stroke-width="0.82"/><circle cx="446.70" cy="319.52" r="3.2" fill="#fff" stroke="#2a2aff" stroke-width="0.82"/><rect x="444.50" y="319.36" width="6.3" height="6.3" fill="#fff" stroke="#ff2a2a" stroke-width="0.82"/><circle cx="448.70" cy="319.57" r="3.2" fill="#fff" stroke="#2a2aff" stroke-width="0.82"/><rect x="446.50" y="319.44" width="6.3" height="6.3" fill="#fff" stroke="#ff2a2a" stroke-width="0.82"/><circle cx="450.70" cy="319.61" r="3.2" fill="#fff" stroke="#2a2aff" stroke-width="0.82"/><rect x="448.50" y="319.46" width="6.3" height="6.3" fill="#fff" stroke="#ff2a2a" stroke-width="0.82"/><circle cx="452.70" cy="319.62" r="3.2" fill="#fff" stroke="#2a2aff" stroke-width="0.82"/><rect x="450.50" y="319.48" width="6.3" height="6.3" fill="#fff" stroke="#ff2a2a" stroke-width="0.82"/><circle cx="454.70" cy="319.63" r="3.2" fill="#fff" stroke="#2a2aff" stroke-width="0.82"/><rect x="452.50" y="319.49" width="6.3" height="6.3" fill="#fff" stroke="#ff2a2a" stroke-width="0.82"/><circle cx="456.70" cy="319.65" r="3.2" fill="#fff" stroke="#2a2aff" stroke-width="0.82"/><rect x="454.50" y="319.51" width="6.3" height="6.3" fill="#fff" stroke="#ff2a2a" stroke-width="0.82"/><circle cx="458.70" cy="319.66" r="3.2" fill="#fff" stroke="#2a2aff" stroke-width="0.82"/><rect x="456.50" y="319.52" width="6.3" height="6.3" fill="#fff" stroke="#ff2a2a" stroke-width="0.82"/><circle cx="460.70" cy="319.68" r="3.2" fill="#fff" stroke="#2a2aff" stroke-width="0.82"/><rect x="458.50" y="319.54" width="6.3" height="6.3" fill="#fff" stroke="#ff2a2a" stroke-width="0.82"/><circle cx="462.70" cy="319.69" r="3.2" fill="#fff" stroke="#2a2aff" stroke-width="0.82"/><rect x="460.50" y="319.55" width="6.3" height="6.3" fill="#fff" stroke="#ff2a2a" stroke-width="0.82"/><circle cx="464.70" cy="319.71" r="3.2" fill="#fff" stroke="#2a2aff" stroke-width="0.82"/><rect x="462.50" y="319.57" width="6.3" height="6.3" fill="#fff" stroke="#ff2a2a" stroke-width="0.82"/><circle cx="466.70" cy="319.72" r="3.2" fill="#fff" stroke="#2a2aff" stroke-width="0.82"/><rect x="464.50" y="319.58" width="6.3" height="6.3" fill="#fff" stroke="#ff2a2a" stroke-width="0.82"/><circle cx="468.70" cy="319.74" r="3.2" fill="#fff" stroke="#2a2aff" stroke-width="0.82"/><rect x="466.50" y="319.60" width="6.3" height="6.3" fill="#fff" stroke="#ff2a2a" stroke-width="0.82"/><circle cx="470.70" cy="319.75" r="3.2" fill="#fff" stroke="#2a2aff" stroke-width="0.82"/><rect x="468.50" y="319.61" width="6.3" height="6.3" fill="#fff" stroke="#ff2a2a" stroke-width="0.82"/><circle cx="472.70" cy="319.77" r="3.2" fill="#fff" stroke="#2a2aff" stroke-width="0.82"/><rect x="470.50" y="319.63" width="6.3" height="6.3" fill="#fff" stroke="#ff2a2a" stroke-width="0.82"/><circle cx="474.70" cy="319.78" r="3.2" fill="#fff" stroke="#2a2aff" stroke-width="0.82"/><rect x="472.50" y="319.64" width="6.3" height="6.3" fill="#fff" stroke="#ff2a2a" stroke-width="0.82"/><circle cx="476.70" cy="319.80" r="3.2" fill="#fff" stroke="#2a2aff" stroke-width="0.82"/><rect x="474.50" y="319.65" width="6.3" height="6.3" fill="#fff" stroke="#ff2a2a" stroke-width="0.82"/><circle cx="478.70" cy="319.81" r="3.2" fill="#fff" stroke="#2a2aff" stroke-width="0.82"/><rect x="476.50" y="319.67" width="6.3" height="6.3" fill="#fff" stroke="#ff2a2a" stroke-width="0.82"/><circle cx="480.70" cy="319.83" r="3.2" fill="#fff" stroke="#2a2aff" stroke-width="0.82"/><rect x="478.50" y="319.68" width="6.3" height="6.3" fill="#fff" stroke="#ff2a2a" stroke-width="0.82"/><circle cx="482.70" cy="319.84" r="3.2" fill="#fff" stroke="#2a2aff" stroke-width="0.82"/><rect x="480.50" y="319.70" width="6.3" height="6.3" fill="#fff" stroke="#ff2a2a" stroke-width="0.82"/><circle cx="484.70" cy="319.86" r="3.2" fill="#fff" stroke="#2a2aff" stroke-width="0.82"/><rect x="482.50" y="319.71" width="6.3" height="6.3" fill="#fff" stroke="#ff2a2a" stroke-width="0.82"/><circle cx="486.70" cy="319.87" r="3.2" fill="#fff" stroke="#2a2aff" stroke-width="0.82"/><rect x="484.50" y="319.73" width="6.3" height="6.3" fill="#fff" stroke="#ff2a2a" stroke-width="0.82"/><circle cx="488.70" cy="319.89" r="3.2" fill="#fff" stroke="#2a2aff" stroke-width="0.82"/><rect x="486.50" y="319.74" width="6.3" height="6.3" fill="#fff" stroke="#ff2a2a" stroke-width="0.82"/><circle cx="490.70" cy="319.90" r="3.2" fill="#fff" stroke="#2a2aff" stroke-width="0.82"/><rect x="488.50" y="319.76" width="6.3" height="6.3" fill="#fff" stroke="#ff2a2a" stroke-width="0.82"/><circle cx="492.70" cy="319.92" r="3.2" fill="#fff" stroke="#2a2aff" stroke-width="0.82"/><rect x="490.50" y="319.77" width="6.3" height="6.3" fill="#fff" stroke="#ff2a2a" stroke-width="0.82"/><circle cx="494.70" cy="319.93" r="3.2" fill="#fff" stroke="#2a2aff" stroke-width="0.82"/><rect x="492.50" y="319.79" width="6.3" height="6.3" fill="#fff" stroke="#ff2a2a" stroke-width="0.82"/><circle cx="496.70" cy="319.95" r="3.2" fill="#fff" stroke="#2a2aff" stroke-width="0.82"/><rect x="494.50" y="319.80" width="6.3" height="6.3" fill="#fff" stroke="#ff2a2a" stroke-width="0.82"/><circle cx="498.70" cy="319.96" r="3.2" fill="#fff" stroke="#2a2aff" stroke-width="0.82"/><rect x="496.50" y="319.82" width="6.3" height="6.3" fill="#fff" stroke="#ff2a2a" stroke-width="0.82"/><circle cx="500.70" cy="319.98" r="3.2" fill="#fff" stroke="#2a2aff" stroke-width="0.82"/><rect x="498.50" y="319.83" width="6.3" height="6.3" fill="#fff" stroke="#ff2a2a" stroke-width="0.82"/><circle cx="502.70" cy="319.99" r="3.2" fill="#fff" stroke="#2a2aff" stroke-width="0.82"/><rect x="500.50" y="319.85" width="6.3" height="6.3" fill="#fff" stroke="#ff2a2a" stroke-width="0.82"/><circle cx="504.70" cy="320.01" r="3.2" fill="#fff" stroke="#2a2aff" stroke-width="0.82"/><rect x="502.50" y="319.86" width="6.3" height="6.3" fill="#fff" stroke="#ff2a2a" stroke-width="0.82"/><circle cx="506.70" cy="320.02" r="3.2" fill="#fff" stroke="#2a2aff" stroke-width="0.82"/><rect x="504.50" y="319.88" width="6.3" height="6.3" fill="#fff" stroke="#ff2a2a" stroke-width="0.82"/><circle cx="508.70" cy="320.03" r="3.2" fill="#fff" stroke="#2a2aff" stroke-width="0.82"/><rect x="506.50" y="319.89" width="6.3" height="6.3" fill="#fff" stroke="#ff2a2a" stroke-width="0.82"/><circle cx="510.70" cy="320.05" r="3.2" fill="#fff" stroke="#2a2aff" stroke-width="0.82"/><rect x="508.50" y="319.91" width="6.3" height="6.3" fill="#fff" stroke="#ff2a2a" stroke-width="0.82"/><circle cx="512.70" cy="320.06" r="3.2" fill="#fff" stroke="#2a2aff" stroke-width="0.82"/><rect x="510.50" y="319.92" width="6.3" height="6.3" fill="#fff" stroke="#ff2a2a" stroke-width="0.82"/><circle cx="514.70" cy="320.08" r="3.2" fill="#fff" stroke="#2a2aff" stroke-width="0.82"/><rect x="512.50" y="319.94" width="6.3" height="6.3" fill="#fff" stroke="#ff2a2a" stroke-width="0.82"/><circle cx="516.70" cy="320.09" r="3.2" fill="#fff" stroke="#2a2aff" stroke-width="0.82"/><rect x="514.50" y="319.95" width="6.3" height="6.3" fill="#fff" stroke="#ff2a2a" stroke-width="0.82"/><circle cx="518.70" cy="320.11" r="3.2" fill="#fff" stroke="#2a2aff" stroke-width="0.82"/><rect x="516.50" y="319.97" width="6.3" height="6.3" fill="#fff" stroke="#ff2a2a" stroke-width="0.82"/><circle cx="520.70" cy="320.12" r="3.2" fill="#fff" stroke="#2a2aff" stroke-width="0.82"/><rect x="518.50" y="319.98" width="6.3" height="6.3" fill="#fff" stroke="#ff2a2a" stroke-width="0.82"/><circle cx="522.70" cy="320.14" r="3.2" fill="#fff" stroke="#2a2aff" stroke-width="0.82"/><rect x="520.50" y="320.00" width="6.3" height="6.3" fill="#fff" stroke="#ff2a2a" stroke-width="0.82"/><circle cx="524.70" cy="320.15" r="3.2" fill="#fff" stroke="#2a2aff" stroke-width="0.82"/><rect x="522.50" y="320.01" width="6.3" height="6.3" fill="#fff" stroke="#ff2a2a" stroke-width="0.82"/><circle cx="526.70" cy="320.17" r="3.2" fill="#fff" stroke="#2a2aff" stroke-width="0.82"/><rect x="524.50" y="320.03" width="6.3" height="6.3" fill="#fff" stroke="#ff2a2a" stroke-width="0.82"/><circle cx="528.70" cy="320.18" r="3.2" fill="#fff" stroke="#2a2aff" stroke-width="0.82"/><rect x="526.50" y="320.04" width="6.3" height="6.3" fill="#fff" stroke="#ff2a2a" stroke-width="0.82"/><circle cx="530.70" cy="320.20" r="3.2" fill="#fff" stroke="#2a2aff" stroke-width="0.82"/><circle cx="108.70" cy="244.80" r="3.2" fill="#f00" stroke="#2a2aff" stroke-width="0.82"/><rect x="106.50" y="171.25" width="6.3" height="6.3" fill="#00f" stroke="#ff2a2a" stroke-width="0.82"/><circle cx="110.70" cy="165.80" r="3.2" fill="#f00" stroke="#2a2aff" stroke-width="0.82"/><rect x="108.50" y="126.25" width="6.3" height="6.3" fill="#00f" stroke="#ff2a2a" stroke-width="0.82"/><circle cx="112.70" cy="114.00" r="3.2" fill="#f00" stroke="#2a2aff" stroke-width="0.82"/><rect x="110.50" y="95.35" width="6.3" height="6.3" fill="#00f" stroke="#ff2a2a" stroke-width="0.82"/><circle cx="114.50" cy="60.70" r="3.2" fill="#f00" stroke="#2a2aff" stroke-width="0.82"/><circle cx="119.50" cy="52.00" r="3.2" fill="#f00" stroke="#2a2aff" stroke-width="0.82"/><circle cx="128.60" cy="38.50" r="3.2" fill="#f00" stroke="#2a2aff" stroke-width="0.82"/></g>
</g>
<g stroke="#000" stroke-width="1.8" fill="none">
<rect x="70" y="7.5" width="460" height="340.2"/>
<path d="M62.5 323.40H70M62.5 274.80H70M62.5 226.20H70M62.5 177.60H70M62.5 129.00H70M62.5 80.40H70M62.5 31.80H70M66 347.70H70M66 299.10H70M66 250.50H70M66 201.90H70M66 153.30H70M66 104.70H70M66 56.10H70M66 7.50H70M70.00 347.7V355M135.71 347.7V355M201.43 347.7V355M267.14 347.7V355M332.86 347.7V355M398.57 347.7V355M464.28 347.7V355M530.00 347.7V355M102.86 347.7V351.7M168.57 347.7V351.7M234.28 347.7V351.7M300.00 347.7V351.7M365.71 347.7V351.7M431.43 347.7V351.7M497.14 347.7V351.7"/>
</g>
<text x="58" y="328.50" font-size="17" text-anchor="end" font-family="Liberation Sans, sans-serif" font-weight="bold">0.0</text>
<text x="58" y="279.90" font-size="17" text-anchor="end" font-family="Liberation Sans, sans-serif" font-weight="bold">0.5</text>
<text x="58" y="231.30" font-size="17" text-anchor="end" font-family="Liberation Sans, sans-serif" font-weight="bold">1.0</text>
<text x="58" y="182.70" font-size="17" text-anchor="end" font-family="Liberation Sans, sans-serif" font-weight="bold">1.5</text>
<text x="58" y="134.10" font-size="17" text-anchor="end" font-family="Liberation Sans, sans-serif" font-weight="bold">2.0</text>
<text x="58" y="85.50" font-size="17" text-anchor="end" font-family="Liberation Sans, sans-serif" font-weight="bold">2.5</text>
<text x="58" y="36.90" font-size="17" text-anchor="end" font-family="Liberation Sans, sans-serif" font-weight="bold">3.0</text>
<text x="70.00" y="372.9" font-size="17" text-anchor="middle" font-family="Liberation Sans, sans-serif" font-weight="bold">200</text>
<text x="135.71" y="372.9" font-size="17" text-anchor="middle" font-family="Liberation Sans, sans-serif" font-weight="bold">300</text>
<text x="201.43" y="372.9" font-size="17" text-anchor="middle" font-family="Liberation Sans, sans-serif" font-weight="bold">400</text>
<text x="267.14" y="372.9" font-size="17" text-anchor="middle" font-family="Liberation Sans, sans-serif" font-weight="bold">500</text>
<text x="332.86" y="372.9" font-size="17" text-anchor="middle" font-family="Liberation Sans, sans-serif" font-weight="bold">600</text>
<text x="398.57" y="372.9" font-size="17" text-anchor="middle" font-family="Liberation Sans, sans-serif" font-weight="bold">700</text>
<text x="464.28" y="372.9" font-size="17" text-anchor="middle" font-family="Liberation Sans, sans-serif" font-weight="bold">800</text>
<text x="530.00" y="372.9" font-size="17" text-anchor="middle" font-family="Liberation Sans, sans-serif" font-weight="bold">900</text>
<text x="0" y="0" font-size="19" text-anchor="middle" font-family="Liberation Sans, sans-serif" font-weight="bold" transform="translate(21.2 190.5) rotate(-90)">A</text>
<text x="305.2" y="404.6" font-size="18.6" text-anchor="middle" font-family="Liberation Sans, sans-serif" font-weight="bold">λ (nm)</text>
<g clip-path="url(#ci)">
<rect x="280.85" y="33.97" width="2.7" height="2.7" fill="#fff" stroke="#ff1a1a" stroke-width="0.8"/><circle cx="282.60" cy="83.56" r="1.4" fill="#fff" stroke="#1010ff" stroke-width="0.8"/><rect x="282.00" y="37.84" width="2.7" height="2.7" fill="#fff" stroke="#ff1a1a" stroke-width="0.8"/><circle cx="283.75" cy="88.81" r="1.4" fill="#fff" stroke="#1010ff" stroke-width="0.8"/><rect x="283.15" y="42.08" width="2.7" height="2.7" fill="#fff" stroke="#ff1a1a" stroke-width="0.8"/><circle cx="284.90" cy="94.03" r="1.4" fill="#fff" stroke="#1010ff" stroke-width="0.8"/><rect x="284.30" y="46.36" width="2.7" height="2.7" fill="#fff" stroke="#ff1a1a" stroke-width="0.8"/><circle cx="286.05" cy="98.88" r="1.4" fill="#fff" stroke="#1010ff" stroke-width="0.8"/><rect x="285.45" y="50.49" width="2.7" height="2.7" fill="#fff" stroke="#ff1a1a" stroke-width="0.8"/><circle cx="287.20" cy="103.24" r="1.4" fill="#fff" stroke="#1010ff" stroke-width="0.8"/><rect x="286.60" y="54.34" width="2.7" height="2.7" fill="#fff" stroke="#ff1a1a" stroke-width="0.8"/><circle cx="288.35" cy="107.11" r="1.4" fill="#fff" stroke="#1010ff" stroke-width="0.8"/><rect x="287.75" y="57.86" width="2.7" height="2.7" fill="#fff" stroke="#ff1a1a" stroke-width="0.8"/><circle cx="289.50" cy="110.59" r="1.4" fill="#fff" stroke="#1010ff" stroke-width="0.8"/><rect x="288.90" y="61.08" width="2.7" height="2.7" fill="#fff" stroke="#ff1a1a" stroke-width="0.8"/><circle cx="290.65" cy="113.74" r="1.4" fill="#fff" stroke="#1010ff" stroke-width="0.8"/><rect x="290.05" y="64.13" width="2.7" height="2.7" fill="#fff" stroke="#ff1a1a" stroke-width="0.8"/><circle cx="291.80" cy="116.60" r="1.4" fill="#fff" stroke="#1010ff" stroke-width="0.8"/><rect x="291.20" y="67.08" width="2.7" height="2.7" fill="#fff" stroke="#ff4a4a" stroke-width="0.6"/><circle cx="292.95" cy="119.20" r="1.4" fill="#fff" stroke="#4a4aff" stroke-width="0.6"/><rect x="292.35" y="69.90" width="2.7" height="2.7" fill="#fff" stroke="#ff4a4a" stroke-width="0.6"/><circle cx="294.10" cy="121.58" r="1.4" fill="#fff" stroke="#4a4aff" stroke-width="0.6"/><rect x="293.50" y="72.58" width="2.7" height="2.7" fill="#fff" stroke="#ff4a4a" stroke-width="0.6"/><circle cx="295.25" cy="123.76" r="1.4" fill="#fff" stroke="#4a4aff" stroke-width="0.6"/><rect x="294.65" y="75.09" width="2.7" height="2.7" fill="#fff" stroke="#ff4a4a" stroke-width="0.6"/><circle cx="296.40" cy="125.76" r="1.4" fill="#fff" stroke="#4a4aff" stroke-width="0.6"/><rect x="295.80" y="77.47" width="2.7" height="2.7" fill="#fff" stroke="#ff4a4a" stroke-width="0.6"/><circle cx="297.55" cy="127.61" r="1.4" fill="#fff" stroke="#4a4aff" stroke-width="0.6"/><rect x="296.95" y="79.73" width="2.7" height="2.7" fill="#fff" stroke="#ff4a4a" stroke-width="0.6"/><circle cx="298.70" cy="129.31" r="1.4" fill="#fff" stroke="#4a4aff" stroke-width="0.6"/><rect x="298.10" y="81.89" width="2.7" height="2.7" fill="#fff" stroke="#ff4a4a" stroke-width="0.6"/><circle cx="299.85" cy="130.90" r="1.4" fill="#fff" stroke="#4a4aff" stroke-width="0.6"/><rect x="299.25" y="83.95" width="2.7" height="2.7" fill="#fff" stroke="#ff4a4a" stroke-width="0.6"/><circle cx="301.00" cy="132.37" r="1.4" fill="#fff" stroke="#4a4aff" stroke-width="0.6"/><rect x="300.40" y="85.86" width="2.7" height="2.7" fill="#fff" stroke="#ff4a4a" stroke-width="0.6"/><circle cx="302.15" cy="133.76" r="1.4" fill="#fff" stroke="#4a4aff" stroke-width="0.6"/><rect x="301.55" y="87.64" width="2.7" height="2.7" fill="#fff" stroke="#ff4a4a" stroke-width="0.6"/><circle cx="303.30" cy="135.08" r="1.4" fill="#fff" stroke="#4a4aff" stroke-width="0.6"/><rect x="302.70" y="89.28" width="2.7" height="2.7" fill="#fff" stroke="#ff4a4a" stroke-width="0.6"/><circle cx="304.45" cy="136.33" r="1.4" fill="#fff" stroke="#4a4aff" stroke-width="0.6"/><rect x="303.85" y="90.80" width="2.7" height="2.7" fill="#fff" stroke="#ff4a4a" stroke-width="0.6"/><circle cx="305.60" cy="137.50" r="1.4" fill="#fff" stroke="#4a4aff" stroke-width="0.6"/><rect x="305.00" y="92.18" width="2.7" height="2.7" fill="#fff" stroke="#ff4a4a" stroke-width="0.6"/><circle cx="306.75" cy="138.56" r="1.4" fill="#fff" stroke="#4a4aff" stroke-width="0.6"/><rect x="306.15" y="93.50" width="2.7" height="2.7" fill="#fff" stroke="#ff4a4a" stroke-width="0.6"/><circle cx="307.90" cy="139.50" r="1.4" fill="#fff" stroke="#4a4aff" stroke-width="0.6"/><rect x="307.30" y="94.79" width="2.7" height="2.7" fill="#fff" stroke="#ff4a4a" stroke-width="0.6"/><circle cx="309.05" cy="140.33" r="1.4" fill="#fff" stroke="#4a4aff" stroke-width="0.6"/><rect x="308.45" y="96.07" width="2.7" height="2.7" fill="#fff" stroke="#ff4a4a" stroke-width="0.6"/><circle cx="310.20" cy="141.09" r="1.4" fill="#fff" stroke="#4a4aff" stroke-width="0.6"/><rect x="309.60" y="97.32" width="2.7" height="2.7" fill="#fff" stroke="#ff4a4a" stroke-width="0.6"/><circle cx="311.35" cy="141.80" r="1.4" fill="#fff" stroke="#4a4aff" stroke-width="0.6"/><rect x="310.75" y="98.58" width="2.7" height="2.7" fill="#fff" stroke="#ff4a4a" stroke-width="0.6"/><circle cx="312.50" cy="142.50" r="1.4" fill="#fff" stroke="#4a4aff" stroke-width="0.6"/><rect x="311.90" y="99.83" width="2.7" height="2.7" fill="#fff" stroke="#ff4a4a" stroke-width="0.6"/><circle cx="313.65" cy="143.19" r="1.4" fill="#fff" stroke="#4a4aff" stroke-width="0.6"/><rect x="313.05" y="101.10" width="2.7" height="2.7" fill="#fff" stroke="#ff4a4a" stroke-width="0.6"/><circle cx="314.80" cy="143.88" r="1.4" fill="#fff" stroke="#4a4aff" stroke-width="0.6"/><rect x="314.20" y="102.37" width="2.7" height="2.7" fill="#fff" stroke="#ff4a4a" stroke-width="0.6"/><circle cx="315.95" cy="144.57" r="1.4" fill="#fff" stroke="#4a4aff" stroke-width="0.6"/><rect x="315.35" y="103.66" width="2.7" height="2.7" fill="#fff" stroke="#ff4a4a" stroke-width="0.6"/><circle cx="317.10" cy="145.26" r="1.4" fill="#fff" stroke="#4a4aff" stroke-width="0.6"/><rect x="316.50" y="104.95" width="2.7" height="2.7" fill="#fff" stroke="#ff4a4a" stroke-width="0.6"/><circle cx="318.25" cy="145.95" r="1.4" fill="#fff" stroke="#4a4aff" stroke-width="0.6"/><rect x="317.65" y="106.25" width="2.7" height="2.7" fill="#fff" stroke="#ff4a4a" stroke-width="0.6"/><circle cx="319.40" cy="146.64" r="1.4" fill="#fff" stroke="#4a4aff" stroke-width="0.6"/><rect x="318.80" y="107.53" width="2.7" height="2.7" fill="#fff" stroke="#ff4a4a" stroke-width="0.6"/><circle cx="320.55" cy="147.33" r="1.4" fill="#fff" stroke="#4a4aff" stroke-width="0.6"/><rect x="319.95" y="108.82" width="2.7" height="2.7" fill="#fff" stroke="#ff4a4a" stroke-width="0.6"/><circle cx="321.70" cy="148.02" r="1.4" fill="#fff" stroke="#4a4aff" stroke-width="0.6"/><rect x="321.10" y="110.10" width="2.7" height="2.7" fill="#fff" stroke="#ff4a4a" stroke-width="0.6"/><circle cx="322.85" cy="148.71" r="1.4" fill="#fff" stroke="#4a4aff" stroke-width="0.6"/><rect x="322.25" y="111.38" width="2.7" height="2.7" fill="#fff" stroke="#ff4a4a" stroke-width="0.6"/><circle cx="324.00" cy="149.41" r="1.4" fill="#fff" stroke="#4a4aff" stroke-width="0.6"/><rect x="323.40" y="112.65" width="2.7" height="2.7" fill="#fff" stroke="#ff4a4a" stroke-width="0.6"/><circle cx="325.15" cy="150.11" r="1.4" fill="#fff" stroke="#4a4aff" stroke-width="0.6"/><rect x="324.55" y="113.92" width="2.7" height="2.7" fill="#fff" stroke="#ff4a4a" stroke-width="0.6"/><circle cx="326.30" cy="150.81" r="1.4" fill="#fff" stroke="#4a4aff" stroke-width="0.6"/><rect x="325.70" y="115.17" width="2.7" height="2.7" fill="#fff" stroke="#ff4a4a" stroke-width="0.6"/><circle cx="327.45" cy="151.51" r="1.4" fill="#fff" stroke="#4a4aff" stroke-width="0.6"/><rect x="326.85" y="116.41" width="2.7" height="2.7" fill="#fff" stroke="#ff4a4a" stroke-width="0.6"/><circle cx="328.60" cy="152.21" r="1.4" fill="#fff" stroke="#4a4aff" stroke-width="0.6"/><rect x="328.00" y="117.66" width="2.7" height="2.7" fill="#fff" stroke="#ff4a4a" stroke-width="0.6"/><circle cx="329.75" cy="152.91" r="1.4" fill="#fff" stroke="#4a4aff" stroke-width="0.6"/><rect x="329.15" y="118.93" width="2.7" height="2.7" fill="#fff" stroke="#ff4a4a" stroke-width="0.6"/><circle cx="330.90" cy="153.60" r="1.4" fill="#fff" stroke="#4a4aff" stroke-width="0.6"/><rect x="330.30" y="120.21" width="2.7" height="2.7" fill="#fff" stroke="#ff4a4a" stroke-width="0.6"/><circle cx="332.05" cy="154.27" r="1.4" fill="#fff" stroke="#4a4aff" stroke-width="0.6"/><rect x="331.45" y="121.52" width="2.7" height="2.7" fill="#fff" stroke="#ff4a4a" stroke-width="0.6"/><circle cx="333.20" cy="154.90" r="1.4" fill="#fff" stroke="#4a4aff" stroke-width="0.6"/><rect x="332.60" y="122.83" width="2.7" height="2.7" fill="#fff" stroke="#ff4a4a" stroke-width="0.6"/><circle cx="334.35" cy="155.50" r="1.4" fill="#fff" stroke="#4a4aff" stroke-width="0.6"/><rect x="333.75" y="124.13" width="2.7" height="2.7" fill="#fff" stroke="#ff4a4a" stroke-width="0.6"/><circle cx="335.50" cy="156.05" r="1.4" fill="#fff" stroke="#4a4aff" stroke-width="0.6"/><rect x="334.90" y="125.42" width="2.7" height="2.7" fill="#fff" stroke="#ff4a4a" stroke-width="0.6"/><circle cx="336.65" cy="156.54" r="1.4" fill="#fff" stroke="#4a4aff" stroke-width="0.6"/><rect x="336.05" y="126.69" width="2.7" height="2.7" fill="#fff" stroke="#ff4a4a" stroke-width="0.6"/><circle cx="337.80" cy="157.00" r="1.4" fill="#fff" stroke="#4a4aff" stroke-width="0.6"/><rect x="337.20" y="127.96" width="2.7" height="2.7" fill="#fff" stroke="#ff4a4a" stroke-width="0.6"/><circle cx="338.95" cy="157.44" r="1.4" fill="#fff" stroke="#4a4aff" stroke-width="0.6"/><rect x="338.35" y="129.24" width="2.7" height="2.7" fill="#fff" stroke="#ff4a4a" stroke-width="0.6"/><circle cx="340.10" cy="157.86" r="1.4" fill="#fff" stroke="#4a4aff" stroke-width="0.6"/><rect x="339.50" y="130.54" width="2.7" height="2.7" fill="#fff" stroke="#ff4a4a" stroke-width="0.6"/><circle cx="341.25" cy="158.27" r="1.4" fill="#fff" stroke="#4a4aff" stroke-width="0.6"/><rect x="340.65" y="131.87" width="2.7" height="2.7" fill="#fff" stroke="#ff4a4a" stroke-width="0.6"/><circle cx="342.40" cy="158.68" r="1.4" fill="#fff" stroke="#4a4aff" stroke-width="0.6"/><rect x="341.80" y="133.23" width="2.7" height="2.7" fill="#fff" stroke="#ff4a4a" stroke-width="0.6"/><circle cx="343.55" cy="159.09" r="1.4" fill="#fff" stroke="#4a4aff" stroke-width="0.6"/><rect x="342.95" y="134.61" width="2.7" height="2.7" fill="#fff" stroke="#ff4a4a" stroke-width="0.6"/><circle cx="344.70" cy="159.49" r="1.4" fill="#fff" stroke="#4a4aff" stroke-width="0.6"/><rect x="344.10" y="135.98" width="2.7" height="2.7" fill="#fff" stroke="#ff4a4a" stroke-width="0.6"/><circle cx="345.85" cy="159.88" r="1.4" fill="#fff" stroke="#4a4aff" stroke-width="0.6"/><rect x="345.25" y="137.33" width="2.7" height="2.7" fill="#fff" stroke="#ff4a4a" stroke-width="0.6"/><circle cx="347.00" cy="160.26" r="1.4" fill="#fff" stroke="#4a4aff" stroke-width="0.6"/><rect x="346.40" y="138.65" width="2.7" height="2.7" fill="#fff" stroke="#ff4a4a" stroke-width="0.6"/><circle cx="348.15" cy="160.62" r="1.4" fill="#fff" stroke="#4a4aff" stroke-width="0.6"/><rect x="347.55" y="139.93" width="2.7" height="2.7" fill="#fff" stroke="#ff4a4a" stroke-width="0.6"/><circle cx="349.30" cy="160.98" r="1.4" fill="#fff" stroke="#4a4aff" stroke-width="0.6"/><rect x="348.70" y="141.20" width="2.7" height="2.7" fill="#fff" stroke="#ff4a4a" stroke-width="0.6"/><circle cx="350.45" cy="161.33" r="1.4" fill="#fff" stroke="#4a4aff" stroke-width="0.6"/><rect x="349.85" y="142.46" width="2.7" height="2.7" fill="#fff" stroke="#ff4a4a" stroke-width="0.6"/><circle cx="351.60" cy="161.68" r="1.4" fill="#fff" stroke="#4a4aff" stroke-width="0.6"/><rect x="351.00" y="143.71" width="2.7" height="2.7" fill="#fff" stroke="#ff4a4a" stroke-width="0.6"/><circle cx="352.75" cy="162.02" r="1.4" fill="#fff" stroke="#4a4aff" stroke-width="0.6"/><rect x="352.15" y="144.93" width="2.7" height="2.7" fill="#fff" stroke="#ff4a4a" stroke-width="0.6"/><circle cx="353.90" cy="162.37" r="1.4" fill="#fff" stroke="#4a4aff" stroke-width="0.6"/><rect x="353.30" y="146.12" width="2.7" height="2.7" fill="#fff" stroke="#ff4a4a" stroke-width="0.6"/><circle cx="355.05" cy="162.71" r="1.4" fill="#fff" stroke="#4a4aff" stroke-width="0.6"/><rect x="354.45" y="147.29" width="2.7" height="2.7" fill="#fff" stroke="#ff4a4a" stroke-width="0.6"/><circle cx="356.20" cy="163.06" r="1.4" fill="#fff" stroke="#4a4aff" stroke-width="0.6"/><rect x="355.60" y="148.45" width="2.7" height="2.7" fill="#fff" stroke="#ff4a4a" stroke-width="0.6"/><circle cx="357.35" cy="163.40" r="1.4" fill="#fff" stroke="#4a4aff" stroke-width="0.6"/><rect x="356.75" y="149.58" width="2.7" height="2.7" fill="#fff" stroke="#ff4a4a" stroke-width="0.6"/><circle cx="358.50" cy="163.75" r="1.4" fill="#fff" stroke="#4a4aff" stroke-width="0.6"/><rect x="357.90" y="150.65" width="2.7" height="2.7" fill="#fff" stroke="#ff4a4a" stroke-width="0.6"/><circle cx="359.65" cy="164.09" r="1.4" fill="#fff" stroke="#4a4aff" stroke-width="0.6"/><rect x="359.05" y="151.64" width="2.7" height="2.7" fill="#fff" stroke="#ff4a4a" stroke-width="0.6"/><circle cx="360.80" cy="164.43" r="1.4" fill="#fff" stroke="#4a4aff" stroke-width="0.6"/><rect x="360.20" y="152.58" width="2.7" height="2.7" fill="#fff" stroke="#ff4a4a" stroke-width="0.6"/><circle cx="361.95" cy="164.78" r="1.4" fill="#fff" stroke="#4a4aff" stroke-width="0.6"/><rect x="361.35" y="153.50" width="2.7" height="2.7" fill="#fff" stroke="#ff4a4a" stroke-width="0.6"/><circle cx="363.10" cy="165.12" r="1.4" fill="#fff" stroke="#4a4aff" stroke-width="0.6"/><rect x="362.50" y="154.41" width="2.7" height="2.7" fill="#fff" stroke="#ff4a4a" stroke-width="0.6"/><circle cx="364.25" cy="165.46" r="1.4" fill="#fff" stroke="#4a4aff" stroke-width="0.6"/><rect x="363.65" y="155.28" width="2.7" height="2.7" fill="#fff" stroke="#ff4a4a" stroke-width="0.6"/><circle cx="365.40" cy="165.80" r="1.4" fill="#fff" stroke="#4a4aff" stroke-width="0.6"/><rect x="364.80" y="156.12" width="2.7" height="2.7" fill="#fff" stroke="#ff4a4a" stroke-width="0.6"/><circle cx="366.55" cy="166.15" r="1.4" fill="#fff" stroke="#4a4aff" stroke-width="0.6"/><rect x="365.95" y="156.93" width="2.7" height="2.7" fill="#fff" stroke="#ff4a4a" stroke-width="0.6"/><circle cx="367.70" cy="166.49" r="1.4" fill="#fff" stroke="#4a4aff" stroke-width="0.6"/><rect x="367.10" y="157.72" width="2.7" height="2.7" fill="#fff" stroke="#ff4a4a" stroke-width="0.6"/><circle cx="368.85" cy="166.82" r="1.4" fill="#fff" stroke="#4a4aff" stroke-width="0.6"/><rect x="368.25" y="158.49" width="2.7" height="2.7" fill="#fff" stroke="#ff4a4a" stroke-width="0.6"/><circle cx="370.00" cy="167.15" r="1.4" fill="#fff" stroke="#4a4aff" stroke-width="0.6"/><rect x="369.40" y="159.23" width="2.7" height="2.7" fill="#fff" stroke="#ff4a4a" stroke-width="0.6"/><circle cx="371.15" cy="167.47" r="1.4" fill="#fff" stroke="#4a4aff" stroke-width="0.6"/><rect x="370.55" y="159.90" width="2.7" height="2.7" fill="#fff" stroke="#ff4a4a" stroke-width="0.6"/><circle cx="372.30" cy="167.78" r="1.4" fill="#fff" stroke="#4a4aff" stroke-width="0.6"/><rect x="371.70" y="160.51" width="2.7" height="2.7" fill="#fff" stroke="#ff4a4a" stroke-width="0.6"/><circle cx="373.45" cy="168.08" r="1.4" fill="#fff" stroke="#4a4aff" stroke-width="0.6"/><rect x="372.85" y="161.10" width="2.7" height="2.7" fill="#fff" stroke="#ff4a4a" stroke-width="0.6"/><circle cx="374.60" cy="168.38" r="1.4" fill="#fff" stroke="#4a4aff" stroke-width="0.6"/><rect x="374.00" y="161.66" width="2.7" height="2.7" fill="#fff" stroke="#ff4a4a" stroke-width="0.6"/><circle cx="375.75" cy="168.67" r="1.4" fill="#fff" stroke="#4a4aff" stroke-width="0.6"/><rect x="375.15" y="162.18" width="2.7" height="2.7" fill="#fff" stroke="#ff4a4a" stroke-width="0.6"/><circle cx="376.90" cy="168.96" r="1.4" fill="#fff" stroke="#4a4aff" stroke-width="0.6"/><rect x="376.30" y="162.65" width="2.7" height="2.7" fill="#fff" stroke="#ff4a4a" stroke-width="0.6"/><circle cx="378.05" cy="169.25" r="1.4" fill="#fff" stroke="#4a4aff" stroke-width="0.6"/><rect x="377.45" y="163.05" width="2.7" height="2.7" fill="#fff" stroke="#ff4a4a" stroke-width="0.6"/><circle cx="379.20" cy="169.54" r="1.4" fill="#fff" stroke="#4a4aff" stroke-width="0.6"/><rect x="378.60" y="163.41" width="2.7" height="2.7" fill="#fff" stroke="#ff4a4a" stroke-width="0.6"/><circle cx="380.35" cy="169.83" r="1.4" fill="#fff" stroke="#4a4aff" stroke-width="0.6"/><rect x="379.75" y="163.76" width="2.7" height="2.7" fill="#fff" stroke="#ff4a4a" stroke-width="0.6"/><circle cx="381.50" cy="170.12" r="1.4" fill="#fff" stroke="#4a4aff" stroke-width="0.6"/><rect x="380.90" y="164.11" width="2.7" height="2.7" fill="#fff" stroke="#ff4a4a" stroke-width="0.6"/><circle cx="382.65" cy="170.40" r="1.4" fill="#fff" stroke="#4a4aff" stroke-width="0.6"/><rect x="382.05" y="164.46" width="2.7" height="2.7" fill="#fff" stroke="#ff4a4a" stroke-width="0.6"/><circle cx="383.80" cy="170.69" r="1.4" fill="#fff" stroke="#4a4aff" stroke-width="0.6"/><rect x="383.20" y="164.80" width="2.7" height="2.7" fill="#fff" stroke="#ff4a4a" stroke-width="0.6"/><circle cx="384.95" cy="170.97" r="1.4" fill="#fff" stroke="#4a4aff" stroke-width="0.6"/><rect x="384.35" y="165.12" width="2.7" height="2.7" fill="#fff" stroke="#ff4a4a" stroke-width="0.6"/><circle cx="386.10" cy="171.25" r="1.4" fill="#fff" stroke="#4a4aff" stroke-width="0.6"/><rect x="385.50" y="165.43" width="2.7" height="2.7" fill="#fff" stroke="#ff4a4a" stroke-width="0.6"/><circle cx="387.25" cy="171.50" r="1.4" fill="#fff" stroke="#4a4aff" stroke-width="0.6"/><rect x="386.65" y="165.73" width="2.7" height="2.7" fill="#fff" stroke="#ff4a4a" stroke-width="0.6"/><circle cx="388.40" cy="171.73" r="1.4" fill="#fff" stroke="#4a4aff" stroke-width="0.6"/><rect x="387.80" y="166.03" width="2.7" height="2.7" fill="#fff" stroke="#ff4a4a" stroke-width="0.6"/><circle cx="389.55" cy="171.92" r="1.4" fill="#fff" stroke="#4a4aff" stroke-width="0.6"/><rect x="388.95" y="166.33" width="2.7" height="2.7" fill="#fff" stroke="#ff4a4a" stroke-width="0.6"/><circle cx="390.70" cy="172.09" r="1.4" fill="#fff" stroke="#4a4aff" stroke-width="0.6"/><rect x="390.10" y="166.63" width="2.7" height="2.7" fill="#fff" stroke="#ff4a4a" stroke-width="0.6"/><circle cx="391.85" cy="172.25" r="1.4" fill="#fff" stroke="#4a4aff" stroke-width="0.6"/><rect x="391.25" y="166.93" width="2.7" height="2.7" fill="#fff" stroke="#ff4a4a" stroke-width="0.6"/><circle cx="393.00" cy="172.39" r="1.4" fill="#fff" stroke="#4a4aff" stroke-width="0.6"/><rect x="392.40" y="167.22" width="2.7" height="2.7" fill="#fff" stroke="#ff4a4a" stroke-width="0.6"/><circle cx="394.15" cy="172.54" r="1.4" fill="#fff" stroke="#4a4aff" stroke-width="0.6"/><rect x="393.55" y="167.52" width="2.7" height="2.7" fill="#fff" stroke="#ff4a4a" stroke-width="0.6"/><circle cx="395.30" cy="172.68" r="1.4" fill="#fff" stroke="#4a4aff" stroke-width="0.6"/><rect x="394.70" y="167.82" width="2.7" height="2.7" fill="#fff" stroke="#ff4a4a" stroke-width="0.6"/><circle cx="396.45" cy="172.82" r="1.4" fill="#fff" stroke="#4a4aff" stroke-width="0.6"/><rect x="395.85" y="168.12" width="2.7" height="2.7" fill="#fff" stroke="#ff4a4a" stroke-width="0.6"/><circle cx="397.60" cy="172.97" r="1.4" fill="#fff" stroke="#4a4aff" stroke-width="0.6"/><rect x="397.00" y="168.42" width="2.7" height="2.7" fill="#fff" stroke="#ff4a4a" stroke-width="0.6"/><circle cx="398.75" cy="173.11" r="1.4" fill="#fff" stroke="#4a4aff" stroke-width="0.6"/><rect x="398.15" y="168.72" width="2.7" height="2.7" fill="#fff" stroke="#ff4a4a" stroke-width="0.6"/><circle cx="399.90" cy="173.25" r="1.4" fill="#fff" stroke="#4a4aff" stroke-width="0.6"/><rect x="399.30" y="169.01" width="2.7" height="2.7" fill="#fff" stroke="#ff4a4a" stroke-width="0.6"/><circle cx="401.05" cy="173.38" r="1.4" fill="#fff" stroke="#4a4aff" stroke-width="0.6"/><rect x="400.45" y="169.28" width="2.7" height="2.7" fill="#fff" stroke="#ff4a4a" stroke-width="0.6"/><circle cx="402.20" cy="173.50" r="1.4" fill="#fff" stroke="#4a4aff" stroke-width="0.6"/><rect x="401.60" y="169.52" width="2.7" height="2.7" fill="#fff" stroke="#ff4a4a" stroke-width="0.6"/><circle cx="403.35" cy="173.60" r="1.4" fill="#fff" stroke="#4a4aff" stroke-width="0.6"/><rect x="402.75" y="169.70" width="2.7" height="2.7" fill="#fff" stroke="#ff4a4a" stroke-width="0.6"/><circle cx="404.50" cy="173.69" r="1.4" fill="#fff" stroke="#4a4aff" stroke-width="0.6"/><rect x="403.90" y="169.86" width="2.7" height="2.7" fill="#fff" stroke="#ff4a4a" stroke-width="0.6"/><circle cx="405.65" cy="173.78" r="1.4" fill="#fff" stroke="#4a4aff" stroke-width="0.6"/><rect x="405.05" y="170.01" width="2.7" height="2.7" fill="#fff" stroke="#ff4a4a" stroke-width="0.6"/><circle cx="406.80" cy="173.85" r="1.4" fill="#fff" stroke="#4a4aff" stroke-width="0.6"/><rect x="406.20" y="170.15" width="2.7" height="2.7" fill="#fff" stroke="#ff4a4a" stroke-width="0.6"/><circle cx="407.95" cy="173.92" r="1.4" fill="#fff" stroke="#4a4aff" stroke-width="0.6"/><rect x="407.35" y="170.29" width="2.7" height="2.7" fill="#fff" stroke="#ff4a4a" stroke-width="0.6"/><circle cx="409.10" cy="173.99" r="1.4" fill="#fff" stroke="#4a4aff" stroke-width="0.6"/><rect x="408.50" y="170.43" width="2.7" height="2.7" fill="#fff" stroke="#ff4a4a" stroke-width="0.6"/><circle cx="410.25" cy="174.07" r="1.4" fill="#fff" stroke="#4a4aff" stroke-width="0.6"/><rect x="409.65" y="170.57" width="2.7" height="2.7" fill="#fff" stroke="#ff4a4a" stroke-width="0.6"/><circle cx="411.40" cy="174.14" r="1.4" fill="#fff" stroke="#4a4aff" stroke-width="0.6"/><rect x="410.80" y="170.72" width="2.7" height="2.7" fill="#fff" stroke="#ff4a4a" stroke-width="0.6"/><circle cx="412.55" cy="174.21" r="1.4" fill="#fff" stroke="#4a4aff" stroke-width="0.6"/><rect x="411.95" y="170.86" width="2.7" height="2.7" fill="#fff" stroke="#ff4a4a" stroke-width="0.6"/><circle cx="413.70" cy="174.28" r="1.4" fill="#fff" stroke="#4a4aff" stroke-width="0.6"/><rect x="413.10" y="171.00" width="2.7" height="2.7" fill="#fff" stroke="#ff4a4a" stroke-width="0.6"/><circle cx="414.85" cy="174.35" r="1.4" fill="#fff" stroke="#4a4aff" stroke-width="0.6"/><rect x="414.25" y="171.14" width="2.7" height="2.7" fill="#fff" stroke="#ff4a4a" stroke-width="0.6"/><circle cx="416.00" cy="174.44" r="1.4" fill="#fff" stroke="#4a4aff" stroke-width="0.6"/><rect x="415.40" y="171.27" width="2.7" height="2.7" fill="#fff" stroke="#ff4a4a" stroke-width="0.6"/><circle cx="417.15" cy="174.52" r="1.4" fill="#fff" stroke="#4a4aff" stroke-width="0.6"/><rect x="416.55" y="171.40" width="2.7" height="2.7" fill="#fff" stroke="#ff4a4a" stroke-width="0.6"/><circle cx="418.30" cy="174.62" r="1.4" fill="#fff" stroke="#4a4aff" stroke-width="0.6"/><rect x="417.70" y="171.53" width="2.7" height="2.7" fill="#fff" stroke="#ff4a4a" stroke-width="0.6"/><circle cx="419.45" cy="174.73" r="1.4" fill="#fff" stroke="#4a4aff" stroke-width="0.6"/><rect x="418.85" y="171.65" width="2.7" height="2.7" fill="#fff" stroke="#ff4a4a" stroke-width="0.6"/><circle cx="420.60" cy="174.84" r="1.4" fill="#fff" stroke="#4a4aff" stroke-width="0.6"/><rect x="420.00" y="171.76" width="2.7" height="2.7" fill="#fff" stroke="#ff4a4a" stroke-width="0.6"/><circle cx="421.75" cy="174.96" r="1.4" fill="#fff" stroke="#4a4aff" stroke-width="0.6"/><rect x="421.15" y="171.88" width="2.7" height="2.7" fill="#fff" stroke="#ff4a4a" stroke-width="0.6"/><circle cx="422.90" cy="175.07" r="1.4" fill="#fff" stroke="#4a4aff" stroke-width="0.6"/><rect x="422.30" y="172.00" width="2.7" height="2.7" fill="#fff" stroke="#ff4a4a" stroke-width="0.6"/><circle cx="424.05" cy="175.19" r="1.4" fill="#fff" stroke="#4a4aff" stroke-width="0.6"/><rect x="423.45" y="172.12" width="2.7" height="2.7" fill="#fff" stroke="#ff4a4a" stroke-width="0.6"/><circle cx="425.20" cy="175.31" r="1.4" fill="#fff" stroke="#4a4aff" stroke-width="0.6"/><rect x="424.60" y="172.24" width="2.7" height="2.7" fill="#fff" stroke="#ff4a4a" stroke-width="0.6"/><circle cx="426.35" cy="175.42" r="1.4" fill="#fff" stroke="#4a4aff" stroke-width="0.6"/><rect x="425.75" y="172.35" width="2.7" height="2.7" fill="#fff" stroke="#ff4a4a" stroke-width="0.6"/><circle cx="427.50" cy="175.53" r="1.4" fill="#fff" stroke="#4a4aff" stroke-width="0.6"/><rect x="426.90" y="172.46" width="2.7" height="2.7" fill="#fff" stroke="#ff4a4a" stroke-width="0.6"/><circle cx="428.65" cy="175.63" r="1.4" fill="#fff" stroke="#4a4aff" stroke-width="0.6"/><rect x="428.05" y="172.57" width="2.7" height="2.7" fill="#fff" stroke="#ff4a4a" stroke-width="0.6"/><circle cx="429.80" cy="175.72" r="1.4" fill="#fff" stroke="#4a4aff" stroke-width="0.6"/><rect x="429.20" y="172.64" width="2.7" height="2.7" fill="#fff" stroke="#ff4a4a" stroke-width="0.6"/><circle cx="430.95" cy="175.79" r="1.4" fill="#fff" stroke="#4a4aff" stroke-width="0.6"/><rect x="430.35" y="172.70" width="2.7" height="2.7" fill="#fff" stroke="#ff4a4a" stroke-width="0.6"/><circle cx="432.10" cy="175.84" r="1.4" fill="#fff" stroke="#4a4aff" stroke-width="0.6"/><rect x="431.50" y="172.75" width="2.7" height="2.7" fill="#fff" stroke="#ff4a4a" stroke-width="0.6"/><circle cx="433.25" cy="175.88" r="1.4" fill="#fff" stroke="#4a4aff" stroke-width="0.6"/><rect x="432.65" y="172.79" width="2.7" height="2.7" fill="#fff" stroke="#ff4a4a" stroke-width="0.6"/><circle cx="434.40" cy="175.91" r="1.4" fill="#fff" stroke="#4a4aff" stroke-width="0.6"/><rect x="433.80" y="172.83" width="2.7" height="2.7" fill="#fff" stroke="#ff4a4a" stroke-width="0.6"/><circle cx="435.55" cy="175.94" r="1.4" fill="#fff" stroke="#4a4aff" stroke-width="0.6"/><rect x="434.95" y="172.87" width="2.7" height="2.7" fill="#fff" stroke="#ff4a4a" stroke-width="0.6"/><circle cx="436.70" cy="175.97" r="1.4" fill="#fff" stroke="#4a4aff" stroke-width="0.6"/><rect x="436.10" y="172.91" width="2.7" height="2.7" fill="#fff" stroke="#ff4a4a" stroke-width="0.6"/><circle cx="437.85" cy="176.00" r="1.4" fill="#fff" stroke="#4a4aff" stroke-width="0.6"/><rect x="437.25" y="172.95" width="2.7" height="2.7" fill="#fff" stroke="#ff4a4a" stroke-width="0.6"/><circle cx="439.00" cy="176.03" r="1.4" fill="#fff" stroke="#4a4aff" stroke-width="0.6"/><rect x="438.40" y="172.99" width="2.7" height="2.7" fill="#fff" stroke="#ff4a4a" stroke-width="0.6"/><circle cx="440.15" cy="176.05" r="1.4" fill="#fff" stroke="#4a4aff" stroke-width="0.6"/><rect x="439.55" y="173.03" width="2.7" height="2.7" fill="#fff" stroke="#ff4a4a" stroke-width="0.6"/><circle cx="441.30" cy="176.08" r="1.4" fill="#fff" stroke="#4a4aff" stroke-width="0.6"/><rect x="440.70" y="173.07" width="2.7" height="2.7" fill="#fff" stroke="#ff4a4a" stroke-width="0.6"/><circle cx="442.45" cy="176.11" r="1.4" fill="#fff" stroke="#4a4aff" stroke-width="0.6"/><rect x="441.85" y="173.11" width="2.7" height="2.7" fill="#fff" stroke="#ff4a4a" stroke-width="0.6"/><circle cx="443.60" cy="176.14" r="1.4" fill="#fff" stroke="#4a4aff" stroke-width="0.6"/><rect x="443.00" y="173.15" width="2.7" height="2.7" fill="#fff" stroke="#ff4a4a" stroke-width="0.6"/><circle cx="444.75" cy="176.17" r="1.4" fill="#fff" stroke="#4a4aff" stroke-width="0.6"/><rect x="444.15" y="173.19" width="2.7" height="2.7" fill="#fff" stroke="#ff4a4a" stroke-width="0.6"/><circle cx="445.90" cy="176.20" r="1.4" fill="#fff" stroke="#4a4aff" stroke-width="0.6"/><rect x="445.30" y="173.23" width="2.7" height="2.7" fill="#fff" stroke="#ff4a4a" stroke-width="0.6"/><circle cx="447.05" cy="176.23" r="1.4" fill="#fff" stroke="#4a4aff" stroke-width="0.6"/><rect x="446.45" y="173.27" width="2.7" height="2.7" fill="#fff" stroke="#ff4a4a" stroke-width="0.6"/><circle cx="448.20" cy="176.26" r="1.4" fill="#fff" stroke="#4a4aff" stroke-width="0.6"/><rect x="447.60" y="173.31" width="2.7" height="2.7" fill="#fff" stroke="#ff4a4a" stroke-width="0.6"/><circle cx="449.35" cy="176.28" r="1.4" fill="#fff" stroke="#4a4aff" stroke-width="0.6"/><rect x="448.75" y="173.35" width="2.7" height="2.7" fill="#fff" stroke="#ff4a4a" stroke-width="0.6"/><circle cx="450.50" cy="176.31" r="1.4" fill="#fff" stroke="#4a4aff" stroke-width="0.6"/><rect x="449.90" y="173.39" width="2.7" height="2.7" fill="#fff" stroke="#ff4a4a" stroke-width="0.6"/><circle cx="451.65" cy="176.34" r="1.4" fill="#fff" stroke="#4a4aff" stroke-width="0.6"/><rect x="451.05" y="173.43" width="2.7" height="2.7" fill="#fff" stroke="#ff4a4a" stroke-width="0.6"/><circle cx="452.80" cy="176.37" r="1.4" fill="#fff" stroke="#4a4aff" stroke-width="0.6"/><rect x="452.20" y="173.47" width="2.7" height="2.7" fill="#fff" stroke="#ff4a4a" stroke-width="0.6"/><circle cx="453.95" cy="176.40" r="1.4" fill="#fff" stroke="#4a4aff" stroke-width="0.6"/><rect x="453.35" y="173.51" width="2.7" height="2.7" fill="#fff" stroke="#ff4a4a" stroke-width="0.6"/><circle cx="455.10" cy="176.43" r="1.4" fill="#fff" stroke="#4a4aff" stroke-width="0.6"/><rect x="454.50" y="173.55" width="2.7" height="2.7" fill="#fff" stroke="#ff4a4a" stroke-width="0.6"/><circle cx="456.25" cy="176.46" r="1.4" fill="#fff" stroke="#4a4aff" stroke-width="0.6"/><rect x="455.65" y="173.59" width="2.7" height="2.7" fill="#fff" stroke="#ff4a4a" stroke-width="0.6"/><circle cx="457.40" cy="176.49" r="1.4" fill="#fff" stroke="#4a4aff" stroke-width="0.6"/><rect x="456.80" y="173.64" width="2.7" height="2.7" fill="#fff" stroke="#ff4a4a" stroke-width="0.6"/><circle cx="458.55" cy="176.51" r="1.4" fill="#fff" stroke="#4a4aff" stroke-width="0.6"/><rect x="457.95" y="173.68" width="2.7" height="2.7" fill="#fff" stroke="#ff4a4a" stroke-width="0.6"/><circle cx="459.70" cy="176.54" r="1.4" fill="#fff" stroke="#4a4aff" stroke-width="0.6"/><rect x="459.10" y="173.72" width="2.7" height="2.7" fill="#fff" stroke="#ff4a4a" stroke-width="0.6"/><circle cx="460.85" cy="176.57" r="1.4" fill="#fff" stroke="#4a4aff" stroke-width="0.6"/><rect x="460.25" y="173.76" width="2.7" height="2.7" fill="#fff" stroke="#ff4a4a" stroke-width="0.6"/><circle cx="462.00" cy="176.60" r="1.4" fill="#fff" stroke="#4a4aff" stroke-width="0.6"/><rect x="461.40" y="173.80" width="2.7" height="2.7" fill="#fff" stroke="#ff4a4a" stroke-width="0.6"/><circle cx="463.15" cy="176.63" r="1.4" fill="#fff" stroke="#4a4aff" stroke-width="0.6"/><rect x="462.55" y="173.84" width="2.7" height="2.7" fill="#fff" stroke="#ff4a4a" stroke-width="0.6"/><circle cx="464.30" cy="176.66" r="1.4" fill="#fff" stroke="#4a4aff" stroke-width="0.6"/><rect x="463.70" y="173.88" width="2.7" height="2.7" fill="#fff" stroke="#ff4a4a" stroke-width="0.6"/><circle cx="465.45" cy="176.69" r="1.4" fill="#fff" stroke="#4a4aff" stroke-width="0.6"/><rect x="464.85" y="173.92" width="2.7" height="2.7" fill="#fff" stroke="#ff4a4a" stroke-width="0.6"/><circle cx="466.60" cy="176.71" r="1.4" fill="#fff" stroke="#4a4aff" stroke-width="0.6"/><rect x="466.00" y="173.96" width="2.7" height="2.7" fill="#fff" stroke="#ff4a4a" stroke-width="0.6"/><circle cx="467.75" cy="176.74" r="1.4" fill="#fff" stroke="#4a4aff" stroke-width="0.6"/><rect x="467.15" y="174.00" width="2.7" height="2.7" fill="#fff" stroke="#ff4a4a" stroke-width="0.6"/><circle cx="468.90" cy="176.77" r="1.4" fill="#fff" stroke="#4a4aff" stroke-width="0.6"/><rect x="468.30" y="174.03" width="2.7" height="2.7" fill="#fff" stroke="#ff4a4a" stroke-width="0.6"/><circle cx="470.05" cy="176.79" r="1.4" fill="#fff" stroke="#4a4aff" stroke-width="0.6"/><rect x="469.45" y="174.06" width="2.7" height="2.7" fill="#fff" stroke="#ff4a4a" stroke-width="0.6"/><circle cx="471.20" cy="176.81" r="1.4" fill="#fff" stroke="#4a4aff" stroke-width="0.6"/><rect x="470.60" y="174.09" width="2.7" height="2.7" fill="#fff" stroke="#ff4a4a" stroke-width="0.6"/><circle cx="472.35" cy="176.83" r="1.4" fill="#fff" stroke="#4a4aff" stroke-width="0.6"/><rect x="471.75" y="174.11" width="2.7" height="2.7" fill="#fff" stroke="#ff4a4a" stroke-width="0.6"/><circle cx="473.50" cy="176.84" r="1.4" fill="#fff" stroke="#4a4aff" stroke-width="0.6"/><rect x="472.90" y="174.14" width="2.7" height="2.7" fill="#fff" stroke="#ff4a4a" stroke-width="0.6"/><circle cx="474.65" cy="176.86" r="1.4" fill="#fff" stroke="#4a4aff" stroke-width="0.6"/><rect x="474.05" y="174.16" width="2.7" height="2.7" fill="#fff" stroke="#ff4a4a" stroke-width="0.6"/><circle cx="475.80" cy="176.87" r="1.4" fill="#fff" stroke="#4a4aff" stroke-width="0.6"/><rect x="475.20" y="174.18" width="2.7" height="2.7" fill="#fff" stroke="#ff4a4a" stroke-width="0.6"/><circle cx="476.95" cy="176.89" r="1.4" fill="#fff" stroke="#4a4aff" stroke-width="0.6"/><rect x="476.35" y="174.21" width="2.7" height="2.7" fill="#fff" stroke="#ff4a4a" stroke-width="0.6"/><circle cx="478.10" cy="176.90" r="1.4" fill="#fff" stroke="#4a4aff" stroke-width="0.6"/><rect x="477.50" y="174.23" width="2.7" height="2.7" fill="#fff" stroke="#ff4a4a" stroke-width="0.6"/><circle cx="479.25" cy="176.92" r="1.4" fill="#fff" stroke="#4a4aff" stroke-width="0.6"/><rect x="478.65" y="174.26" width="2.7" height="2.7" fill="#fff" stroke="#ff4a4a" stroke-width="0.6"/><circle cx="480.40" cy="176.93" r="1.4" fill="#fff" stroke="#4a4aff" stroke-width="0.6"/><rect x="479.80" y="174.28" width="2.7" height="2.7" fill="#fff" stroke="#ff4a4a" stroke-width="0.6"/><circle cx="481.55" cy="176.95" r="1.4" fill="#fff" stroke="#4a4aff" stroke-width="0.6"/><rect x="480.95" y="174.30" width="2.7" height="2.7" fill="#fff" stroke="#ff4a4a" stroke-width="0.6"/><circle cx="482.70" cy="176.96" r="1.4" fill="#fff" stroke="#4a4aff" stroke-width="0.6"/><rect x="482.10" y="174.33" width="2.7" height="2.7" fill="#fff" stroke="#ff4a4a" stroke-width="0.6"/><circle cx="483.85" cy="176.98" r="1.4" fill="#fff" stroke="#4a4aff" stroke-width="0.6"/><rect x="483.25" y="174.35" width="2.7" height="2.7" fill="#fff" stroke="#ff4a4a" stroke-width="0.6"/><circle cx="485.00" cy="176.99" r="1.4" fill="#fff" stroke="#4a4aff" stroke-width="0.6"/><rect x="484.40" y="174.37" width="2.7" height="2.7" fill="#fff" stroke="#ff4a4a" stroke-width="0.6"/><circle cx="486.15" cy="177.01" r="1.4" fill="#fff" stroke="#4a4aff" stroke-width="0.6"/><rect x="485.55" y="174.40" width="2.7" height="2.7" fill="#fff" stroke="#ff4a4a" stroke-width="0.6"/><circle cx="487.30" cy="177.02" r="1.4" fill="#fff" stroke="#4a4aff" stroke-width="0.6"/><rect x="486.70" y="174.42" width="2.7" height="2.7" fill="#fff" stroke="#ff4a4a" stroke-width="0.6"/><circle cx="488.45" cy="177.04" r="1.4" fill="#fff" stroke="#4a4aff" stroke-width="0.6"/><rect x="487.85" y="174.44" width="2.7" height="2.7" fill="#fff" stroke="#ff4a4a" stroke-width="0.6"/><circle cx="489.60" cy="177.05" r="1.4" fill="#fff" stroke="#4a4aff" stroke-width="0.6"/><rect x="489.00" y="174.47" width="2.7" height="2.7" fill="#fff" stroke="#ff4a4a" stroke-width="0.6"/><circle cx="490.75" cy="177.07" r="1.4" fill="#fff" stroke="#4a4aff" stroke-width="0.6"/><rect x="490.15" y="174.49" width="2.7" height="2.7" fill="#fff" stroke="#ff4a4a" stroke-width="0.6"/><circle cx="491.90" cy="177.08" r="1.4" fill="#fff" stroke="#4a4aff" stroke-width="0.6"/><rect x="491.30" y="174.51" width="2.7" height="2.7" fill="#fff" stroke="#ff4a4a" stroke-width="0.6"/><circle cx="493.05" cy="177.10" r="1.4" fill="#fff" stroke="#4a4aff" stroke-width="0.6"/><rect x="492.45" y="174.54" width="2.7" height="2.7" fill="#fff" stroke="#ff4a4a" stroke-width="0.6"/><circle cx="494.20" cy="177.11" r="1.4" fill="#fff" stroke="#4a4aff" stroke-width="0.6"/><rect x="493.60" y="174.56" width="2.7" height="2.7" fill="#fff" stroke="#ff4a4a" stroke-width="0.6"/><circle cx="495.35" cy="177.13" r="1.4" fill="#fff" stroke="#4a4aff" stroke-width="0.6"/><rect x="494.75" y="174.59" width="2.7" height="2.7" fill="#fff" stroke="#ff4a4a" stroke-width="0.6"/><circle cx="496.50" cy="177.14" r="1.4" fill="#fff" stroke="#4a4aff" stroke-width="0.6"/><rect x="495.90" y="174.61" width="2.7" height="2.7" fill="#fff" stroke="#ff4a4a" stroke-width="0.6"/><circle cx="497.65" cy="177.15" r="1.4" fill="#fff" stroke="#4a4aff" stroke-width="0.6"/><rect x="497.05" y="174.63" width="2.7" height="2.7" fill="#fff" stroke="#ff4a4a" stroke-width="0.6"/><circle cx="498.80" cy="177.17" r="1.4" fill="#fff" stroke="#4a4aff" stroke-width="0.6"/><rect x="498.20" y="174.66" width="2.7" height="2.7" fill="#fff" stroke="#ff4a4a" stroke-width="0.6"/><circle cx="499.95" cy="177.18" r="1.4" fill="#fff" stroke="#4a4aff" stroke-width="0.6"/><rect x="499.35" y="174.68" width="2.7" height="2.7" fill="#fff" stroke="#ff4a4a" stroke-width="0.6"/><circle cx="501.10" cy="177.20" r="1.4" fill="#fff" stroke="#4a4aff" stroke-width="0.6"/><rect x="500.50" y="174.70" width="2.7" height="2.7" fill="#fff" stroke="#ff4a4a" stroke-width="0.6"/><circle cx="502.25" cy="177.21" r="1.4" fill="#fff" stroke="#4a4aff" stroke-width="0.6"/><rect x="501.65" y="174.73" width="2.7" height="2.7" fill="#fff" stroke="#ff4a4a" stroke-width="0.6"/><circle cx="503.40" cy="177.23" r="1.4" fill="#fff" stroke="#4a4aff" stroke-width="0.6"/><rect x="502.80" y="174.75" width="2.7" height="2.7" fill="#fff" stroke="#ff4a4a" stroke-width="0.6"/><circle cx="504.55" cy="177.24" r="1.4" fill="#fff" stroke="#4a4aff" stroke-width="0.6"/><rect x="503.95" y="174.77" width="2.7" height="2.7" fill="#fff" stroke="#ff4a4a" stroke-width="0.6"/><circle cx="505.70" cy="177.26" r="1.4" fill="#fff" stroke="#4a4aff" stroke-width="0.6"/><rect x="505.10" y="174.80" width="2.7" height="2.7" fill="#fff" stroke="#ff4a4a" stroke-width="0.6"/><circle cx="506.85" cy="177.27" r="1.4" fill="#fff" stroke="#4a4aff" stroke-width="0.6"/><rect x="506.25" y="174.82" width="2.7" height="2.7" fill="#fff" stroke="#ff4a4a" stroke-width="0.6"/><circle cx="508.00" cy="177.29" r="1.4" fill="#fff" stroke="#4a4aff" stroke-width="0.6"/><rect x="507.40" y="174.84" width="2.7" height="2.7" fill="#fff" stroke="#ff4a4a" stroke-width="0.6"/>
</g>
<g stroke="#222" stroke-width="1" fill="none">
<rect x="282.3" y="27.8" width="225.9" height="167.4"/>
<path d="M279.3 176.45H282.3M279.3 139.35H282.3M279.3 102.25H282.3M279.3 65.15H282.3M279.3 28.05H282.3M280.3 195.00H282.3M280.3 157.90H282.3M280.3 120.80H282.3M280.3 83.70H282.3M280.3 46.60H282.3M302.56 195.2V198.5M343.69 195.2V198.5M384.82 195.2V198.5M425.96 195.2V198.5M467.09 195.2V198.5M508.22 195.2V198.5M323.13 195.2V197.5M364.26 195.2V197.5M405.39 195.2V197.5M446.52 195.2V197.5M487.65 195.2V197.5"/>
</g>
<text x="276" y="180.05" font-size="10" text-anchor="end" font-family="Liberation Sans, sans-serif" font-weight="bold">0.0</text>
<text x="276" y="142.95" font-size="10" text-anchor="end" font-family="Liberation Sans, sans-serif" font-weight="bold">0.5</text>
<text x="276" y="105.85" font-size="10" text-anchor="end" font-family="Liberation Sans, sans-serif" font-weight="bold">1.0</text>
<text x="276" y="68.75" font-size="10" text-anchor="end" font-family="Liberation Sans, sans-serif" font-weight="bold">1.5</text>
<text x="276" y="31.65" font-size="10" text-anchor="end" font-family="Liberation Sans, sans-serif" font-weight="bold">2.0</text>
<text x="302.56" y="209.6" font-size="10.5" text-anchor="middle" font-family="Liberation Sans, sans-serif" font-weight="bold">400</text>
<text x="343.69" y="209.6" font-size="10.5" text-anchor="middle" font-family="Liberation Sans, sans-serif" font-weight="bold">500</text>
<text x="384.82" y="209.6" font-size="10.5" text-anchor="middle" font-family="Liberation Sans, sans-serif" font-weight="bold">600</text>
<text x="425.96" y="209.6" font-size="10.5" text-anchor="middle" font-family="Liberation Sans, sans-serif" font-weight="bold">700</text>
<text x="467.09" y="209.6" font-size="10.5" text-anchor="middle" font-family="Liberation Sans, sans-serif" font-weight="bold">800</text>
<text x="508.22" y="209.6" font-size="10.5" text-anchor="middle" font-family="Liberation Sans, sans-serif" font-weight="bold">900</text>
<text x="0" y="0" font-size="10" text-anchor="middle" font-family="Liberation Sans, sans-serif" font-weight="bold" transform="translate(257.6 118.5) rotate(-90)">A</text>
<text x="406" y="224" font-size="10.5" text-anchor="middle" font-family="Liberation Sans, sans-serif" font-weight="bold">λ (nm)</text>
<text x="377.6" y="116.3" font-size="12.9" font-family="Liberation Sans, sans-serif" font-weight="bold">PVTNP-<tspan font-style="italic">g</tspan>-3<tspan font-size="6.5" dy="-5">#</tspan><tspan dy="5">GAP</tspan></text>
<text x="377.6" y="139.6" font-size="12.9" font-family="Liberation Sans, sans-serif" font-weight="bold">PNTNP</text>
<path d="M368.20 114.60L349.38 123.11" stroke="#000" stroke-width="1.4"/><path d="M343.00 126.00L349.72 119.01L348.92 123.32L352.68 125.57Z" fill="#000"/>
<path d="M371.10 136.80L351.24 152.89" stroke="#000" stroke-width="1.4"/><path d="M345.80 157.30L350.53 148.84L350.85 153.21L355.06 154.43Z" fill="#000"/></svg>
</body></html>
